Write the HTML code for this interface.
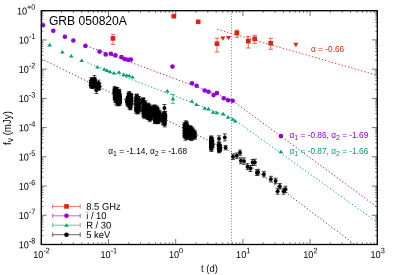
<!DOCTYPE html><html><head><meta charset="utf-8"><style>html,body{margin:0;padding:0;background:#fff;overflow:hidden}body{width:395px;height:275px;position:relative}</style></head><body><svg width="395" height="275" viewBox="0 0 395 275" style="position:absolute;left:0;top:0;will-change:transform;font-family:'Liberation Sans',sans-serif">
<rect width="395" height="275" fill="#fff"/>
<path d="M41.30 244.5v-5.4M41.30 10.7v5.4M61.53 244.5v-2.1M61.53 10.7v2.1M73.36 244.5v-2.1M73.36 10.7v2.1M81.76 244.5v-2.1M81.76 10.7v2.1M88.27 244.5v-2.1M88.27 10.7v2.1M93.59 244.5v-2.1M93.59 10.7v2.1M98.09 244.5v-2.1M98.09 10.7v2.1M101.99 244.5v-2.1M101.99 10.7v2.1M105.43 244.5v-2.1M105.43 10.7v2.1M108.50 244.5v-5.4M108.50 10.7v5.4M128.73 244.5v-2.1M128.73 10.7v2.1M140.56 244.5v-2.1M140.56 10.7v2.1M148.96 244.5v-2.1M148.96 10.7v2.1M155.47 244.5v-2.1M155.47 10.7v2.1M160.79 244.5v-2.1M160.79 10.7v2.1M165.29 244.5v-2.1M165.29 10.7v2.1M169.19 244.5v-2.1M169.19 10.7v2.1M172.63 244.5v-2.1M172.63 10.7v2.1M175.70 244.5v-5.4M175.70 10.7v5.4M195.93 244.5v-2.1M195.93 10.7v2.1M207.76 244.5v-2.1M207.76 10.7v2.1M216.16 244.5v-2.1M216.16 10.7v2.1M222.67 244.5v-2.1M222.67 10.7v2.1M227.99 244.5v-2.1M227.99 10.7v2.1M232.49 244.5v-2.1M232.49 10.7v2.1M236.39 244.5v-2.1M236.39 10.7v2.1M239.83 244.5v-2.1M239.83 10.7v2.1M242.90 244.5v-5.4M242.90 10.7v5.4M263.13 244.5v-2.1M263.13 10.7v2.1M274.96 244.5v-2.1M274.96 10.7v2.1M283.36 244.5v-2.1M283.36 10.7v2.1M289.87 244.5v-2.1M289.87 10.7v2.1M295.19 244.5v-2.1M295.19 10.7v2.1M299.69 244.5v-2.1M299.69 10.7v2.1M303.59 244.5v-2.1M303.59 10.7v2.1M307.03 244.5v-2.1M307.03 10.7v2.1M310.10 244.5v-5.4M310.10 10.7v5.4M330.33 244.5v-2.1M330.33 10.7v2.1M342.16 244.5v-2.1M342.16 10.7v2.1M350.56 244.5v-2.1M350.56 10.7v2.1M357.07 244.5v-2.1M357.07 10.7v2.1M362.39 244.5v-2.1M362.39 10.7v2.1M366.89 244.5v-2.1M366.89 10.7v2.1M370.79 244.5v-2.1M370.79 10.7v2.1M374.23 244.5v-2.1M374.23 10.7v2.1M377.30 244.5v-5.4M377.30 10.7v5.4M41.3 10.70h5.4M377.3 10.70h-5.4M41.3 31.13h2.1M377.3 31.13h-2.1M41.3 25.98h2.1M377.3 25.98h-2.1M41.3 22.33h2.1M377.3 22.33h-2.1M41.3 19.50h2.1M377.3 19.50h-2.1M41.3 17.18h2.1M377.3 17.18h-2.1M41.3 15.23h2.1M377.3 15.23h-2.1M41.3 13.53h2.1M377.3 13.53h-2.1M41.3 12.04h2.1M377.3 12.04h-2.1M41.3 39.92h5.4M377.3 39.92h-5.4M41.3 60.35h2.1M377.3 60.35h-2.1M41.3 55.21h2.1M377.3 55.21h-2.1M41.3 51.55h2.1M377.3 51.55h-2.1M41.3 48.72h2.1M377.3 48.72h-2.1M41.3 46.41h2.1M377.3 46.41h-2.1M41.3 44.45h2.1M377.3 44.45h-2.1M41.3 42.76h2.1M377.3 42.76h-2.1M41.3 41.26h2.1M377.3 41.26h-2.1M41.3 69.15h5.4M377.3 69.15h-5.4M41.3 89.58h2.1M377.3 89.58h-2.1M41.3 84.43h2.1M377.3 84.43h-2.1M41.3 80.78h2.1M377.3 80.78h-2.1M41.3 77.95h2.1M377.3 77.95h-2.1M41.3 75.63h2.1M377.3 75.63h-2.1M41.3 73.68h2.1M377.3 73.68h-2.1M41.3 71.98h2.1M377.3 71.98h-2.1M41.3 70.49h2.1M377.3 70.49h-2.1M41.3 98.38h5.4M377.3 98.38h-5.4M41.3 118.80h2.1M377.3 118.80h-2.1M41.3 113.66h2.1M377.3 113.66h-2.1M41.3 110.00h2.1M377.3 110.00h-2.1M41.3 107.17h2.1M377.3 107.17h-2.1M41.3 104.86h2.1M377.3 104.86h-2.1M41.3 102.90h2.1M377.3 102.90h-2.1M41.3 101.21h2.1M377.3 101.21h-2.1M41.3 99.71h2.1M377.3 99.71h-2.1M41.3 127.60h5.4M377.3 127.60h-5.4M41.3 148.03h2.1M377.3 148.03h-2.1M41.3 142.88h2.1M377.3 142.88h-2.1M41.3 139.23h2.1M377.3 139.23h-2.1M41.3 136.40h2.1M377.3 136.40h-2.1M41.3 134.08h2.1M377.3 134.08h-2.1M41.3 132.13h2.1M377.3 132.13h-2.1M41.3 130.43h2.1M377.3 130.43h-2.1M41.3 128.94h2.1M377.3 128.94h-2.1M41.3 156.82h5.4M377.3 156.82h-5.4M41.3 177.25h2.1M377.3 177.25h-2.1M41.3 172.11h2.1M377.3 172.11h-2.1M41.3 168.45h2.1M377.3 168.45h-2.1M41.3 165.62h2.1M377.3 165.62h-2.1M41.3 163.31h2.1M377.3 163.31h-2.1M41.3 161.35h2.1M377.3 161.35h-2.1M41.3 159.66h2.1M377.3 159.66h-2.1M41.3 158.16h2.1M377.3 158.16h-2.1M41.3 186.05h5.4M377.3 186.05h-5.4M41.3 206.48h2.1M377.3 206.48h-2.1M41.3 201.33h2.1M377.3 201.33h-2.1M41.3 197.68h2.1M377.3 197.68h-2.1M41.3 194.85h2.1M377.3 194.85h-2.1M41.3 192.53h2.1M377.3 192.53h-2.1M41.3 190.58h2.1M377.3 190.58h-2.1M41.3 188.88h2.1M377.3 188.88h-2.1M41.3 187.39h2.1M377.3 187.39h-2.1M41.3 215.28h5.4M377.3 215.28h-5.4M41.3 235.70h2.1M377.3 235.70h-2.1M41.3 230.56h2.1M377.3 230.56h-2.1M41.3 226.90h2.1M377.3 226.90h-2.1M41.3 224.07h2.1M377.3 224.07h-2.1M41.3 221.76h2.1M377.3 221.76h-2.1M41.3 219.80h2.1M377.3 219.80h-2.1M41.3 218.11h2.1M377.3 218.11h-2.1M41.3 216.61h2.1M377.3 216.61h-2.1M41.3 244.50h5.4M377.3 244.50h-5.4" stroke="#000" stroke-width="0.55" fill="none"/>
<path d="M231.50 10.70 L231.50 244.50" stroke="#333" stroke-width="0.7" stroke-dasharray="0.9 1.9" fill="none"/>
<path d="M217.30 29.40 L377.30 75.30" stroke="#e51e10" stroke-width="0.9" stroke-dasharray="1.3 2.1" fill="none"/>
<path d="M86.50 45.80 L231.30 99.80 L377.30 207.20" stroke="#9400d3" stroke-width="0.9" stroke-dasharray="1.3 2.1" fill="none"/>
<path d="M87.50 62.70 L231.30 117.60 L377.30 222.30" stroke="#009e73" stroke-width="0.9" stroke-dasharray="1.3 2.1" fill="none"/>
<path d="M41.30 58.80 L231.30 151.70 L354.90 244.50" stroke="#2a2a2a" stroke-width="0.85" stroke-dasharray="1.3 2.1" fill="none"/>
<path d="M92.22 78.04V83.74M90.22 78.04h4.0M90.22 83.74h4.0" stroke="#000000" stroke-width="0.7" fill="none"/>
<path d="M90.96 80.53V85.66M88.96 80.53h4.0M88.96 85.66h4.0" stroke="#000000" stroke-width="0.7" fill="none"/>
<path d="M90.89 80.62V85.10M88.89 80.62h4.0M88.89 85.10h4.0" stroke="#000000" stroke-width="0.7" fill="none"/>
<path d="M92.77 78.26V82.84M90.77 78.26h4.0M90.77 82.84h4.0" stroke="#000000" stroke-width="0.7" fill="none"/>
<path d="M92.72 83.66V88.31M90.72 83.66h4.0M90.72 88.31h4.0" stroke="#000000" stroke-width="0.7" fill="none"/>
<path d="M91.72 80.95V87.24M89.72 80.95h4.0M89.72 87.24h4.0" stroke="#000000" stroke-width="0.7" fill="none"/>
<path d="M93.49 80.05V86.41M91.49 80.05h4.0M91.49 86.41h4.0" stroke="#000000" stroke-width="0.7" fill="none"/>
<path d="M90.83 82.87V87.85M88.83 82.87h4.0M88.83 87.85h4.0" stroke="#000000" stroke-width="0.7" fill="none"/>
<path d="M91.32 77.74V82.76M89.32 77.74h4.0M89.32 82.76h4.0" stroke="#000000" stroke-width="0.7" fill="none"/>
<path d="M94.68 79.43V84.99M92.68 79.43h4.0M92.68 84.99h4.0" stroke="#000000" stroke-width="0.7" fill="none"/>
<path d="M93.79 80.45V85.94M91.79 80.45h4.0M91.79 85.94h4.0" stroke="#000000" stroke-width="0.7" fill="none"/>
<path d="M91.63 81.81V87.06M89.63 81.81h4.0M89.63 87.06h4.0" stroke="#000000" stroke-width="0.7" fill="none"/>
<path d="M92.17 81.34V86.65M90.17 81.34h4.0M90.17 86.65h4.0" stroke="#000000" stroke-width="0.7" fill="none"/>
<path d="M92.10 82.57V88.37M90.10 82.57h4.0M90.10 88.37h4.0" stroke="#000000" stroke-width="0.7" fill="none"/>
<path d="M91.82 81.03V86.49M89.82 81.03h4.0M89.82 86.49h4.0" stroke="#000000" stroke-width="0.7" fill="none"/>
<path d="M94.98 83.81V88.78M92.98 83.81h4.0M92.98 88.78h4.0" stroke="#000000" stroke-width="0.7" fill="none"/>
<path d="M98.30 85.21V89.91M96.30 85.21h4.0M96.30 89.91h4.0" stroke="#000000" stroke-width="0.7" fill="none"/>
<path d="M98.47 80.17V85.91M96.47 80.17h4.0M96.47 85.91h4.0" stroke="#000000" stroke-width="0.7" fill="none"/>
<path d="M99.13 83.68V89.83M97.13 83.68h4.0M97.13 89.83h4.0" stroke="#000000" stroke-width="0.7" fill="none"/>
<path d="M98.05 84.25V89.84M96.05 84.25h4.0M96.05 89.84h4.0" stroke="#000000" stroke-width="0.7" fill="none"/>
<path d="M98.69 82.77V88.85M96.69 82.77h4.0M96.69 88.85h4.0" stroke="#000000" stroke-width="0.7" fill="none"/>
<path d="M99.57 83.45V89.18M97.57 83.45h4.0M97.57 89.18h4.0" stroke="#000000" stroke-width="0.7" fill="none"/>
<path d="M97.45 83.97V89.66M95.45 83.97h4.0M95.45 89.66h4.0" stroke="#000000" stroke-width="0.7" fill="none"/>
<path d="M97.98 82.17V87.91M95.98 82.17h4.0M95.98 87.91h4.0" stroke="#000000" stroke-width="0.7" fill="none"/>
<path d="M97.35 82.87V87.61M95.35 82.87h4.0M95.35 87.61h4.0" stroke="#000000" stroke-width="0.7" fill="none"/>
<path d="M114.73 86.49V92.43M112.73 86.49h4.0M112.73 92.43h4.0" stroke="#000000" stroke-width="0.7" fill="none"/>
<path d="M114.80 89.54V94.72M112.80 89.54h4.0M112.80 94.72h4.0" stroke="#000000" stroke-width="0.7" fill="none"/>
<path d="M119.40 89.22V94.51M117.40 89.22h4.0M117.40 94.51h4.0" stroke="#000000" stroke-width="0.7" fill="none"/>
<path d="M117.41 99.19V105.22M115.41 99.19h4.0M115.41 105.22h4.0" stroke="#000000" stroke-width="0.7" fill="none"/>
<path d="M119.36 92.00V97.23M117.36 92.00h4.0M117.36 97.23h4.0" stroke="#000000" stroke-width="0.7" fill="none"/>
<path d="M116.22 98.53V104.84M114.22 98.53h4.0M114.22 104.84h4.0" stroke="#000000" stroke-width="0.7" fill="none"/>
<path d="M114.94 88.76V93.63M112.94 88.76h4.0M112.94 93.63h4.0" stroke="#000000" stroke-width="0.7" fill="none"/>
<path d="M115.45 92.96V98.53M113.45 92.96h4.0M113.45 98.53h4.0" stroke="#000000" stroke-width="0.7" fill="none"/>
<path d="M116.60 91.88V97.41M114.60 91.88h4.0M114.60 97.41h4.0" stroke="#000000" stroke-width="0.7" fill="none"/>
<path d="M119.91 97.92V103.35M117.91 97.92h4.0M117.91 103.35h4.0" stroke="#000000" stroke-width="0.7" fill="none"/>
<path d="M117.83 97.24V101.75M115.83 97.24h4.0M115.83 101.75h4.0" stroke="#000000" stroke-width="0.7" fill="none"/>
<path d="M119.58 98.66V104.81M117.58 98.66h4.0M117.58 104.81h4.0" stroke="#000000" stroke-width="0.7" fill="none"/>
<path d="M118.95 93.43V98.62M116.95 93.43h4.0M116.95 98.62h4.0" stroke="#000000" stroke-width="0.7" fill="none"/>
<path d="M114.64 95.21V99.74M112.64 95.21h4.0M112.64 99.74h4.0" stroke="#000000" stroke-width="0.7" fill="none"/>
<path d="M114.42 89.05V93.78M112.42 89.05h4.0M112.42 93.78h4.0" stroke="#000000" stroke-width="0.7" fill="none"/>
<path d="M116.11 87.79V92.19M114.11 87.79h4.0M114.11 92.19h4.0" stroke="#000000" stroke-width="0.7" fill="none"/>
<path d="M114.94 87.58V92.71M112.94 87.58h4.0M112.94 92.71h4.0" stroke="#000000" stroke-width="0.7" fill="none"/>
<path d="M117.81 89.65V94.55M115.81 89.65h4.0M115.81 94.55h4.0" stroke="#000000" stroke-width="0.7" fill="none"/>
<path d="M116.15 92.05V96.70M114.15 92.05h4.0M114.15 96.70h4.0" stroke="#000000" stroke-width="0.7" fill="none"/>
<path d="M116.89 94.09V98.66M114.89 94.09h4.0M114.89 98.66h4.0" stroke="#000000" stroke-width="0.7" fill="none"/>
<path d="M114.63 90.92V95.85M112.63 90.92h4.0M112.63 95.85h4.0" stroke="#000000" stroke-width="0.7" fill="none"/>
<path d="M119.14 90.65V95.10M117.14 90.65h4.0M117.14 95.10h4.0" stroke="#000000" stroke-width="0.7" fill="none"/>
<path d="M119.90 96.01V100.70M117.90 96.01h4.0M117.90 100.70h4.0" stroke="#000000" stroke-width="0.7" fill="none"/>
<path d="M117.37 87.47V92.93M115.37 87.47h4.0M115.37 92.93h4.0" stroke="#000000" stroke-width="0.7" fill="none"/>
<path d="M118.32 91.34V96.47M116.32 91.34h4.0M116.32 96.47h4.0" stroke="#000000" stroke-width="0.7" fill="none"/>
<path d="M115.04 96.85V102.31M113.04 96.85h4.0M113.04 102.31h4.0" stroke="#000000" stroke-width="0.7" fill="none"/>
<path d="M118.83 92.67V97.52M116.83 92.67h4.0M116.83 97.52h4.0" stroke="#000000" stroke-width="0.7" fill="none"/>
<path d="M119.29 98.95V104.99M117.29 98.95h4.0M117.29 104.99h4.0" stroke="#000000" stroke-width="0.7" fill="none"/>
<path d="M118.59 90.83V96.26M116.59 90.83h4.0M116.59 96.26h4.0" stroke="#000000" stroke-width="0.7" fill="none"/>
<path d="M116.20 87.47V91.93M114.20 87.47h4.0M114.20 91.93h4.0" stroke="#000000" stroke-width="0.7" fill="none"/>
<path d="M115.73 89.82V95.61M113.73 89.82h4.0M113.73 95.61h4.0" stroke="#000000" stroke-width="0.7" fill="none"/>
<path d="M119.93 94.10V100.37M117.93 94.10h4.0M117.93 100.37h4.0" stroke="#000000" stroke-width="0.7" fill="none"/>
<path d="M116.26 89.98V94.84M114.26 89.98h4.0M114.26 94.84h4.0" stroke="#000000" stroke-width="0.7" fill="none"/>
<path d="M115.22 88.89V94.54M113.22 88.89h4.0M113.22 94.54h4.0" stroke="#000000" stroke-width="0.7" fill="none"/>
<path d="M119.58 99.90V105.26M117.58 99.90h4.0M117.58 105.26h4.0" stroke="#000000" stroke-width="0.7" fill="none"/>
<path d="M118.05 99.04V103.61M116.05 99.04h4.0M116.05 103.61h4.0" stroke="#000000" stroke-width="0.7" fill="none"/>
<path d="M118.10 99.90V105.87M116.10 99.90h4.0M116.10 105.87h4.0" stroke="#000000" stroke-width="0.7" fill="none"/>
<path d="M118.65 94.71V99.47M116.65 94.71h4.0M116.65 99.47h4.0" stroke="#000000" stroke-width="0.7" fill="none"/>
<path d="M118.89 92.16V98.16M116.89 92.16h4.0M116.89 98.16h4.0" stroke="#000000" stroke-width="0.7" fill="none"/>
<path d="M120.02 93.96V99.16M118.02 93.96h4.0M118.02 99.16h4.0" stroke="#000000" stroke-width="0.7" fill="none"/>
<path d="M119.87 98.72V103.46M117.87 98.72h4.0M117.87 103.46h4.0" stroke="#000000" stroke-width="0.7" fill="none"/>
<path d="M114.79 87.67V93.88M112.79 87.67h4.0M112.79 93.88h4.0" stroke="#000000" stroke-width="0.7" fill="none"/>
<path d="M119.00 89.58V95.63M117.00 89.58h4.0M117.00 95.63h4.0" stroke="#000000" stroke-width="0.7" fill="none"/>
<path d="M120.08 97.69V102.79M118.08 97.69h4.0M118.08 102.79h4.0" stroke="#000000" stroke-width="0.7" fill="none"/>
<path d="M129.40 93.55V97.98M127.40 93.55h4.0M127.40 97.98h4.0" stroke="#000000" stroke-width="0.7" fill="none"/>
<path d="M131.55 100.96V106.41M129.55 100.96h4.0M129.55 106.41h4.0" stroke="#000000" stroke-width="0.7" fill="none"/>
<path d="M131.36 97.64V103.78M129.36 97.64h4.0M129.36 103.78h4.0" stroke="#000000" stroke-width="0.7" fill="none"/>
<path d="M130.81 95.02V99.93M128.81 95.02h4.0M128.81 99.93h4.0" stroke="#000000" stroke-width="0.7" fill="none"/>
<path d="M128.09 93.86V99.43M126.09 93.86h4.0M126.09 99.43h4.0" stroke="#000000" stroke-width="0.7" fill="none"/>
<path d="M127.92 96.63V101.29M125.92 96.63h4.0M125.92 101.29h4.0" stroke="#000000" stroke-width="0.7" fill="none"/>
<path d="M131.24 96.92V102.24M129.24 96.92h4.0M129.24 102.24h4.0" stroke="#000000" stroke-width="0.7" fill="none"/>
<path d="M129.58 103.59V108.83M127.58 103.59h4.0M127.58 108.83h4.0" stroke="#000000" stroke-width="0.7" fill="none"/>
<path d="M131.28 98.85V104.31M129.28 98.85h4.0M129.28 104.31h4.0" stroke="#000000" stroke-width="0.7" fill="none"/>
<path d="M129.27 91.56V96.84M127.27 91.56h4.0M127.27 96.84h4.0" stroke="#000000" stroke-width="0.7" fill="none"/>
<path d="M130.68 94.22V99.57M128.68 94.22h4.0M128.68 99.57h4.0" stroke="#000000" stroke-width="0.7" fill="none"/>
<path d="M130.30 99.35V104.40M128.30 99.35h4.0M128.30 104.40h4.0" stroke="#000000" stroke-width="0.7" fill="none"/>
<path d="M129.24 98.40V104.37M127.24 98.40h4.0M127.24 104.37h4.0" stroke="#000000" stroke-width="0.7" fill="none"/>
<path d="M127.14 98.06V102.95M125.14 98.06h4.0M125.14 102.95h4.0" stroke="#000000" stroke-width="0.7" fill="none"/>
<path d="M128.01 101.03V106.44M126.01 101.03h4.0M126.01 106.44h4.0" stroke="#000000" stroke-width="0.7" fill="none"/>
<path d="M129.46 101.11V107.34M127.46 101.11h4.0M127.46 107.34h4.0" stroke="#000000" stroke-width="0.7" fill="none"/>
<path d="M128.86 99.27V104.68M126.86 99.27h4.0M126.86 104.68h4.0" stroke="#000000" stroke-width="0.7" fill="none"/>
<path d="M129.21 100.56V105.86M127.21 100.56h4.0M127.21 105.86h4.0" stroke="#000000" stroke-width="0.7" fill="none"/>
<path d="M129.32 97.24V103.52M127.32 97.24h4.0M127.32 103.52h4.0" stroke="#000000" stroke-width="0.7" fill="none"/>
<path d="M130.17 102.96V109.24M128.17 102.96h4.0M128.17 109.24h4.0" stroke="#000000" stroke-width="0.7" fill="none"/>
<path d="M127.92 97.70V103.99M125.92 97.70h4.0M125.92 103.99h4.0" stroke="#000000" stroke-width="0.7" fill="none"/>
<path d="M130.88 94.20V98.84M128.88 94.20h4.0M128.88 98.84h4.0" stroke="#000000" stroke-width="0.7" fill="none"/>
<path d="M128.85 92.30V97.18M126.85 92.30h4.0M126.85 97.18h4.0" stroke="#000000" stroke-width="0.7" fill="none"/>
<path d="M126.97 98.91V104.88M124.97 98.91h4.0M124.97 104.88h4.0" stroke="#000000" stroke-width="0.7" fill="none"/>
<path d="M131.17 93.96V99.80M129.17 93.96h4.0M129.17 99.80h4.0" stroke="#000000" stroke-width="0.7" fill="none"/>
<path d="M129.97 93.10V99.27M127.97 93.10h4.0M127.97 99.27h4.0" stroke="#000000" stroke-width="0.7" fill="none"/>
<path d="M131.53 94.76V101.07M129.53 94.76h4.0M129.53 101.07h4.0" stroke="#000000" stroke-width="0.7" fill="none"/>
<path d="M128.63 97.01V103.39M126.63 97.01h4.0M126.63 103.39h4.0" stroke="#000000" stroke-width="0.7" fill="none"/>
<path d="M130.85 94.20V99.46M128.85 94.20h4.0M128.85 99.46h4.0" stroke="#000000" stroke-width="0.7" fill="none"/>
<path d="M129.23 96.08V100.88M127.23 96.08h4.0M127.23 100.88h4.0" stroke="#000000" stroke-width="0.7" fill="none"/>
<path d="M128.22 100.94V105.38M126.22 100.94h4.0M126.22 105.38h4.0" stroke="#000000" stroke-width="0.7" fill="none"/>
<path d="M129.43 97.71V102.14M127.43 97.71h4.0M127.43 102.14h4.0" stroke="#000000" stroke-width="0.7" fill="none"/>
<path d="M128.29 99.16V104.59M126.29 99.16h4.0M126.29 104.59h4.0" stroke="#000000" stroke-width="0.7" fill="none"/>
<path d="M130.62 105.28V109.89M128.62 105.28h4.0M128.62 109.89h4.0" stroke="#000000" stroke-width="0.7" fill="none"/>
<path d="M136.76 94.45V100.41M134.76 94.45h4.0M134.76 100.41h4.0" stroke="#000000" stroke-width="0.7" fill="none"/>
<path d="M136.77 96.20V101.45M134.77 96.20h4.0M134.77 101.45h4.0" stroke="#000000" stroke-width="0.7" fill="none"/>
<path d="M139.08 108.02V112.94M137.08 108.02h4.0M137.08 112.94h4.0" stroke="#000000" stroke-width="0.7" fill="none"/>
<path d="M136.34 108.02V113.56M134.34 108.02h4.0M134.34 113.56h4.0" stroke="#000000" stroke-width="0.7" fill="none"/>
<path d="M138.32 96.64V101.16M136.32 96.64h4.0M136.32 101.16h4.0" stroke="#000000" stroke-width="0.7" fill="none"/>
<path d="M138.28 101.78V106.33M136.28 101.78h4.0M136.28 106.33h4.0" stroke="#000000" stroke-width="0.7" fill="none"/>
<path d="M139.18 104.68V110.68M137.18 104.68h4.0M137.18 110.68h4.0" stroke="#000000" stroke-width="0.7" fill="none"/>
<path d="M136.10 107.44V111.98M134.10 107.44h4.0M134.10 111.98h4.0" stroke="#000000" stroke-width="0.7" fill="none"/>
<path d="M138.91 102.24V107.31M136.91 102.24h4.0M136.91 107.31h4.0" stroke="#000000" stroke-width="0.7" fill="none"/>
<path d="M137.79 109.09V114.02M135.79 109.09h4.0M135.79 114.02h4.0" stroke="#000000" stroke-width="0.7" fill="none"/>
<path d="M136.27 102.28V107.15M134.27 102.28h4.0M134.27 107.15h4.0" stroke="#000000" stroke-width="0.7" fill="none"/>
<path d="M136.19 96.80V101.30M134.19 96.80h4.0M134.19 101.30h4.0" stroke="#000000" stroke-width="0.7" fill="none"/>
<path d="M136.53 99.02V104.03M134.53 99.02h4.0M134.53 104.03h4.0" stroke="#000000" stroke-width="0.7" fill="none"/>
<path d="M138.53 99.39V104.79M136.53 99.39h4.0M136.53 104.79h4.0" stroke="#000000" stroke-width="0.7" fill="none"/>
<path d="M136.44 99.80V104.24M134.44 99.80h4.0M134.44 104.24h4.0" stroke="#000000" stroke-width="0.7" fill="none"/>
<path d="M136.70 94.10V99.97M134.70 94.10h4.0M134.70 99.97h4.0" stroke="#000000" stroke-width="0.7" fill="none"/>
<path d="M137.78 97.53V102.88M135.78 97.53h4.0M135.78 102.88h4.0" stroke="#000000" stroke-width="0.7" fill="none"/>
<path d="M139.16 96.52V102.56M137.16 96.52h4.0M137.16 102.56h4.0" stroke="#000000" stroke-width="0.7" fill="none"/>
<path d="M137.36 101.68V107.75M135.36 101.68h4.0M135.36 107.75h4.0" stroke="#000000" stroke-width="0.7" fill="none"/>
<path d="M137.22 101.94V107.72M135.22 101.94h4.0M135.22 107.72h4.0" stroke="#000000" stroke-width="0.7" fill="none"/>
<path d="M139.34 100.23V106.29M137.34 100.23h4.0M137.34 106.29h4.0" stroke="#000000" stroke-width="0.7" fill="none"/>
<path d="M138.34 104.72V109.93M136.34 104.72h4.0M136.34 109.93h4.0" stroke="#000000" stroke-width="0.7" fill="none"/>
<path d="M137.05 95.46V100.12M135.05 95.46h4.0M135.05 100.12h4.0" stroke="#000000" stroke-width="0.7" fill="none"/>
<path d="M136.05 105.46V110.37M134.05 105.46h4.0M134.05 110.37h4.0" stroke="#000000" stroke-width="0.7" fill="none"/>
<path d="M136.39 94.91V101.00M134.39 94.91h4.0M134.39 101.00h4.0" stroke="#000000" stroke-width="0.7" fill="none"/>
<path d="M138.93 105.64V110.61M136.93 105.64h4.0M136.93 110.61h4.0" stroke="#000000" stroke-width="0.7" fill="none"/>
<path d="M136.67 98.64V103.95M134.67 98.64h4.0M134.67 103.95h4.0" stroke="#000000" stroke-width="0.7" fill="none"/>
<path d="M136.37 101.05V105.97M134.37 101.05h4.0M134.37 105.97h4.0" stroke="#000000" stroke-width="0.7" fill="none"/>
<path d="M137.77 97.88V104.21M135.77 97.88h4.0M135.77 104.21h4.0" stroke="#000000" stroke-width="0.7" fill="none"/>
<path d="M136.91 100.18V104.58M134.91 100.18h4.0M134.91 104.58h4.0" stroke="#000000" stroke-width="0.7" fill="none"/>
<path d="M143.67 104.70V110.11M141.67 104.70h4.0M141.67 110.11h4.0" stroke="#000000" stroke-width="0.7" fill="none"/>
<path d="M143.02 105.39V109.80M141.02 105.39h4.0M141.02 109.80h4.0" stroke="#000000" stroke-width="0.7" fill="none"/>
<path d="M143.25 98.45V103.65M141.25 98.45h4.0M141.25 103.65h4.0" stroke="#000000" stroke-width="0.7" fill="none"/>
<path d="M143.40 100.62V106.19M141.40 100.62h4.0M141.40 106.19h4.0" stroke="#000000" stroke-width="0.7" fill="none"/>
<path d="M144.21 109.20V114.91M142.21 109.20h4.0M142.21 114.91h4.0" stroke="#000000" stroke-width="0.7" fill="none"/>
<path d="M144.88 111.83V117.00M142.88 111.83h4.0M142.88 117.00h4.0" stroke="#000000" stroke-width="0.7" fill="none"/>
<path d="M143.47 113.12V117.82M141.47 113.12h4.0M141.47 117.82h4.0" stroke="#000000" stroke-width="0.7" fill="none"/>
<path d="M144.91 108.41V112.90M142.91 108.41h4.0M142.91 112.90h4.0" stroke="#000000" stroke-width="0.7" fill="none"/>
<path d="M145.31 111.99V117.64M143.31 111.99h4.0M143.31 117.64h4.0" stroke="#000000" stroke-width="0.7" fill="none"/>
<path d="M144.94 111.04V115.71M142.94 111.04h4.0M142.94 115.71h4.0" stroke="#000000" stroke-width="0.7" fill="none"/>
<path d="M144.19 105.07V111.14M142.19 105.07h4.0M142.19 111.14h4.0" stroke="#000000" stroke-width="0.7" fill="none"/>
<path d="M145.20 110.93V116.50M143.20 110.93h4.0M143.20 116.50h4.0" stroke="#000000" stroke-width="0.7" fill="none"/>
<path d="M145.51 108.67V114.46M143.51 108.67h4.0M143.51 114.46h4.0" stroke="#000000" stroke-width="0.7" fill="none"/>
<path d="M143.13 97.73V102.39M141.13 97.73h4.0M141.13 102.39h4.0" stroke="#000000" stroke-width="0.7" fill="none"/>
<path d="M143.60 98.42V104.49M141.60 98.42h4.0M141.60 104.49h4.0" stroke="#000000" stroke-width="0.7" fill="none"/>
<path d="M144.31 107.31V112.97M142.31 107.31h4.0M142.31 112.97h4.0" stroke="#000000" stroke-width="0.7" fill="none"/>
<path d="M144.75 105.92V110.32M142.75 105.92h4.0M142.75 110.32h4.0" stroke="#000000" stroke-width="0.7" fill="none"/>
<path d="M145.17 109.75V115.16M143.17 109.75h4.0M143.17 115.16h4.0" stroke="#000000" stroke-width="0.7" fill="none"/>
<path d="M144.23 108.34V112.87M142.23 108.34h4.0M142.23 112.87h4.0" stroke="#000000" stroke-width="0.7" fill="none"/>
<path d="M144.95 102.14V106.69M142.95 102.14h4.0M142.95 106.69h4.0" stroke="#000000" stroke-width="0.7" fill="none"/>
<path d="M143.26 108.88V113.69M141.26 108.88h4.0M141.26 113.69h4.0" stroke="#000000" stroke-width="0.7" fill="none"/>
<path d="M144.96 113.31V118.69M142.96 113.31h4.0M142.96 118.69h4.0" stroke="#000000" stroke-width="0.7" fill="none"/>
<path d="M143.68 104.59V110.36M141.68 104.59h4.0M141.68 110.36h4.0" stroke="#000000" stroke-width="0.7" fill="none"/>
<path d="M145.06 107.46V113.15M143.06 107.46h4.0M143.06 113.15h4.0" stroke="#000000" stroke-width="0.7" fill="none"/>
<path d="M142.58 99.22V104.13M140.58 99.22h4.0M140.58 104.13h4.0" stroke="#000000" stroke-width="0.7" fill="none"/>
<path d="M144.98 102.50V108.03M142.98 102.50h4.0M142.98 108.03h4.0" stroke="#000000" stroke-width="0.7" fill="none"/>
<path d="M143.27 107.49V113.27M141.27 107.49h4.0M141.27 113.27h4.0" stroke="#000000" stroke-width="0.7" fill="none"/>
<path d="M144.73 102.22V107.65M142.73 102.22h4.0M142.73 107.65h4.0" stroke="#000000" stroke-width="0.7" fill="none"/>
<path d="M143.97 105.09V109.72M141.97 105.09h4.0M141.97 109.72h4.0" stroke="#000000" stroke-width="0.7" fill="none"/>
<path d="M145.52 100.65V107.00M143.52 100.65h4.0M143.52 107.00h4.0" stroke="#000000" stroke-width="0.7" fill="none"/>
<path d="M143.95 109.88V116.22M141.95 109.88h4.0M141.95 116.22h4.0" stroke="#000000" stroke-width="0.7" fill="none"/>
<path d="M143.92 101.81V106.63M141.92 101.81h4.0M141.92 106.63h4.0" stroke="#000000" stroke-width="0.7" fill="none"/>
<path d="M151.10 105.95V111.51M149.10 105.95h4.0M149.10 111.51h4.0" stroke="#000000" stroke-width="0.7" fill="none"/>
<path d="M148.12 109.13V115.43M146.12 109.13h4.0M146.12 115.43h4.0" stroke="#000000" stroke-width="0.7" fill="none"/>
<path d="M148.09 114.17V119.59M146.09 114.17h4.0M146.09 119.59h4.0" stroke="#000000" stroke-width="0.7" fill="none"/>
<path d="M150.88 113.88V118.75M148.88 113.88h4.0M148.88 118.75h4.0" stroke="#000000" stroke-width="0.7" fill="none"/>
<path d="M150.92 110.72V115.17M148.92 110.72h4.0M148.92 115.17h4.0" stroke="#000000" stroke-width="0.7" fill="none"/>
<path d="M147.61 108.89V114.19M145.61 108.89h4.0M145.61 114.19h4.0" stroke="#000000" stroke-width="0.7" fill="none"/>
<path d="M148.72 104.02V109.11M146.72 104.02h4.0M146.72 109.11h4.0" stroke="#000000" stroke-width="0.7" fill="none"/>
<path d="M148.77 115.30V119.70M146.77 115.30h4.0M146.77 119.70h4.0" stroke="#000000" stroke-width="0.7" fill="none"/>
<path d="M150.38 115.89V120.53M148.38 115.89h4.0M148.38 120.53h4.0" stroke="#000000" stroke-width="0.7" fill="none"/>
<path d="M151.03 113.43V119.63M149.03 113.43h4.0M149.03 119.63h4.0" stroke="#000000" stroke-width="0.7" fill="none"/>
<path d="M148.67 107.56V112.75M146.67 107.56h4.0M146.67 112.75h4.0" stroke="#000000" stroke-width="0.7" fill="none"/>
<path d="M151.30 112.16V117.28M149.30 112.16h4.0M149.30 117.28h4.0" stroke="#000000" stroke-width="0.7" fill="none"/>
<path d="M149.18 106.62V111.12M147.18 106.62h4.0M147.18 111.12h4.0" stroke="#000000" stroke-width="0.7" fill="none"/>
<path d="M147.98 114.57V119.54M145.98 114.57h4.0M145.98 119.54h4.0" stroke="#000000" stroke-width="0.7" fill="none"/>
<path d="M151.06 106.85V111.78M149.06 106.85h4.0M149.06 111.78h4.0" stroke="#000000" stroke-width="0.7" fill="none"/>
<path d="M149.49 105.11V110.25M147.49 105.11h4.0M147.49 110.25h4.0" stroke="#000000" stroke-width="0.7" fill="none"/>
<path d="M150.60 111.95V118.17M148.60 111.95h4.0M148.60 118.17h4.0" stroke="#000000" stroke-width="0.7" fill="none"/>
<path d="M151.08 111.08V116.92M149.08 111.08h4.0M149.08 116.92h4.0" stroke="#000000" stroke-width="0.7" fill="none"/>
<path d="M147.78 112.72V118.03M145.78 112.72h4.0M145.78 118.03h4.0" stroke="#000000" stroke-width="0.7" fill="none"/>
<path d="M150.38 112.69V117.66M148.38 112.69h4.0M148.38 117.66h4.0" stroke="#000000" stroke-width="0.7" fill="none"/>
<path d="M148.07 108.90V113.99M146.07 108.90h4.0M146.07 113.99h4.0" stroke="#000000" stroke-width="0.7" fill="none"/>
<path d="M148.70 112.72V119.07M146.70 112.72h4.0M146.70 119.07h4.0" stroke="#000000" stroke-width="0.7" fill="none"/>
<path d="M148.56 112.03V117.04M146.56 112.03h4.0M146.56 117.04h4.0" stroke="#000000" stroke-width="0.7" fill="none"/>
<path d="M149.66 108.58V113.31M147.66 108.58h4.0M147.66 113.31h4.0" stroke="#000000" stroke-width="0.7" fill="none"/>
<path d="M148.20 104.27V110.49M146.20 104.27h4.0M146.20 110.49h4.0" stroke="#000000" stroke-width="0.7" fill="none"/>
<path d="M149.44 105.02V111.23M147.44 105.02h4.0M147.44 111.23h4.0" stroke="#000000" stroke-width="0.7" fill="none"/>
<path d="M151.29 110.21V114.89M149.29 110.21h4.0M149.29 114.89h4.0" stroke="#000000" stroke-width="0.7" fill="none"/>
<path d="M148.31 103.06V108.14M146.31 103.06h4.0M146.31 108.14h4.0" stroke="#000000" stroke-width="0.7" fill="none"/>
<path d="M147.94 105.29V110.21M145.94 105.29h4.0M145.94 110.21h4.0" stroke="#000000" stroke-width="0.7" fill="none"/>
<path d="M149.71 115.71V121.61M147.71 115.71h4.0M147.71 121.61h4.0" stroke="#000000" stroke-width="0.7" fill="none"/>
<path d="M149.13 108.29V113.74M147.13 108.29h4.0M147.13 113.74h4.0" stroke="#000000" stroke-width="0.7" fill="none"/>
<path d="M148.99 107.51V112.03M146.99 107.51h4.0M146.99 112.03h4.0" stroke="#000000" stroke-width="0.7" fill="none"/>
<path d="M155.09 118.06V122.71M153.09 118.06h4.0M153.09 122.71h4.0" stroke="#000000" stroke-width="0.7" fill="none"/>
<path d="M156.62 113.48V119.61M154.62 113.48h4.0M154.62 119.61h4.0" stroke="#000000" stroke-width="0.7" fill="none"/>
<path d="M154.67 108.41V113.31M152.67 108.41h4.0M152.67 113.31h4.0" stroke="#000000" stroke-width="0.7" fill="none"/>
<path d="M155.92 110.61V116.92M153.92 110.61h4.0M153.92 116.92h4.0" stroke="#000000" stroke-width="0.7" fill="none"/>
<path d="M158.97 118.64V123.09M156.97 118.64h4.0M156.97 123.09h4.0" stroke="#000000" stroke-width="0.7" fill="none"/>
<path d="M153.42 113.08V119.27M151.42 113.08h4.0M151.42 119.27h4.0" stroke="#000000" stroke-width="0.7" fill="none"/>
<path d="M156.42 113.69V118.09M154.42 113.69h4.0M154.42 118.09h4.0" stroke="#000000" stroke-width="0.7" fill="none"/>
<path d="M155.86 117.16V123.21M153.86 117.16h4.0M153.86 123.21h4.0" stroke="#000000" stroke-width="0.7" fill="none"/>
<path d="M154.89 106.44V111.15M152.89 106.44h4.0M152.89 111.15h4.0" stroke="#000000" stroke-width="0.7" fill="none"/>
<path d="M156.75 114.17V120.45M154.75 114.17h4.0M154.75 120.45h4.0" stroke="#000000" stroke-width="0.7" fill="none"/>
<path d="M158.11 114.49V120.42M156.11 114.49h4.0M156.11 120.42h4.0" stroke="#000000" stroke-width="0.7" fill="none"/>
<path d="M156.31 113.12V117.60M154.31 113.12h4.0M154.31 117.60h4.0" stroke="#000000" stroke-width="0.7" fill="none"/>
<path d="M158.52 108.96V115.20M156.52 108.96h4.0M156.52 115.20h4.0" stroke="#000000" stroke-width="0.7" fill="none"/>
<path d="M157.59 110.29V114.94M155.59 110.29h4.0M155.59 114.94h4.0" stroke="#000000" stroke-width="0.7" fill="none"/>
<path d="M154.91 112.97V118.77M152.91 112.97h4.0M152.91 118.77h4.0" stroke="#000000" stroke-width="0.7" fill="none"/>
<path d="M153.96 105.13V110.58M151.96 105.13h4.0M151.96 110.58h4.0" stroke="#000000" stroke-width="0.7" fill="none"/>
<path d="M157.16 111.13V115.98M155.16 111.13h4.0M155.16 115.98h4.0" stroke="#000000" stroke-width="0.7" fill="none"/>
<path d="M157.29 106.05V111.05M155.29 106.05h4.0M155.29 111.05h4.0" stroke="#000000" stroke-width="0.7" fill="none"/>
<path d="M156.33 117.98V123.67M154.33 117.98h4.0M154.33 123.67h4.0" stroke="#000000" stroke-width="0.7" fill="none"/>
<path d="M159.21 113.21V118.08M157.21 113.21h4.0M157.21 118.08h4.0" stroke="#000000" stroke-width="0.7" fill="none"/>
<path d="M154.88 117.29V123.10M152.88 117.29h4.0M152.88 123.10h4.0" stroke="#000000" stroke-width="0.7" fill="none"/>
<path d="M155.29 105.10V110.50M153.29 105.10h4.0M153.29 110.50h4.0" stroke="#000000" stroke-width="0.7" fill="none"/>
<path d="M157.79 111.80V116.72M155.79 111.80h4.0M155.79 116.72h4.0" stroke="#000000" stroke-width="0.7" fill="none"/>
<path d="M157.74 118.58V123.44M155.74 118.58h4.0M155.74 123.44h4.0" stroke="#000000" stroke-width="0.7" fill="none"/>
<path d="M153.43 108.58V113.82M151.43 108.58h4.0M151.43 113.82h4.0" stroke="#000000" stroke-width="0.7" fill="none"/>
<path d="M157.84 108.32V114.31M155.84 108.32h4.0M155.84 114.31h4.0" stroke="#000000" stroke-width="0.7" fill="none"/>
<path d="M158.23 113.19V118.00M156.23 113.19h4.0M156.23 118.00h4.0" stroke="#000000" stroke-width="0.7" fill="none"/>
<path d="M159.80 110.69V116.73M157.80 110.69h4.0M157.80 116.73h4.0" stroke="#000000" stroke-width="0.7" fill="none"/>
<path d="M154.77 107.28V113.20M152.77 107.28h4.0M152.77 113.20h4.0" stroke="#000000" stroke-width="0.7" fill="none"/>
<path d="M155.21 117.53V122.92M153.21 117.53h4.0M153.21 122.92h4.0" stroke="#000000" stroke-width="0.7" fill="none"/>
<path d="M154.47 107.52V112.75M152.47 107.52h4.0M152.47 112.75h4.0" stroke="#000000" stroke-width="0.7" fill="none"/>
<path d="M157.72 118.97V123.67M155.72 118.97h4.0M155.72 123.67h4.0" stroke="#000000" stroke-width="0.7" fill="none"/>
<path d="M155.88 107.45V113.80M153.88 107.45h4.0M153.88 113.80h4.0" stroke="#000000" stroke-width="0.7" fill="none"/>
<path d="M154.16 105.44V109.96M152.16 105.44h4.0M152.16 109.96h4.0" stroke="#000000" stroke-width="0.7" fill="none"/>
<path d="M155.87 116.73V122.89M153.87 116.73h4.0M153.87 122.89h4.0" stroke="#000000" stroke-width="0.7" fill="none"/>
<path d="M159.53 111.45V116.22M157.53 111.45h4.0M157.53 116.22h4.0" stroke="#000000" stroke-width="0.7" fill="none"/>
<path d="M159.56 117.20V121.67M157.56 117.20h4.0M157.56 121.67h4.0" stroke="#000000" stroke-width="0.7" fill="none"/>
<path d="M157.72 111.10V116.25M155.72 111.10h4.0M155.72 116.25h4.0" stroke="#000000" stroke-width="0.7" fill="none"/>
<path d="M155.46 107.65V112.06M153.46 107.65h4.0M153.46 112.06h4.0" stroke="#000000" stroke-width="0.7" fill="none"/>
<path d="M155.10 108.98V115.29M153.10 108.98h4.0M153.10 115.29h4.0" stroke="#000000" stroke-width="0.7" fill="none"/>
<path d="M154.61 108.96V115.01M152.61 108.96h4.0M152.61 115.01h4.0" stroke="#000000" stroke-width="0.7" fill="none"/>
<path d="M158.79 112.63V117.13M156.79 112.63h4.0M156.79 117.13h4.0" stroke="#000000" stroke-width="0.7" fill="none"/>
<path d="M156.42 109.89V116.13M154.42 109.89h4.0M154.42 116.13h4.0" stroke="#000000" stroke-width="0.7" fill="none"/>
<path d="M154.51 108.94V115.14M152.51 108.94h4.0M152.51 115.14h4.0" stroke="#000000" stroke-width="0.7" fill="none"/>
<path d="M162.68 114.13V120.15M160.68 114.13h4.0M160.68 120.15h4.0" stroke="#000000" stroke-width="0.7" fill="none"/>
<path d="M164.75 111.39V115.86M162.75 111.39h4.0M162.75 115.86h4.0" stroke="#000000" stroke-width="0.7" fill="none"/>
<path d="M163.32 118.36V124.56M161.32 118.36h4.0M161.32 124.56h4.0" stroke="#000000" stroke-width="0.7" fill="none"/>
<path d="M163.55 112.71V119.02M161.55 112.71h4.0M161.55 119.02h4.0" stroke="#000000" stroke-width="0.7" fill="none"/>
<path d="M164.33 113.18V119.01M162.33 113.18h4.0M162.33 119.01h4.0" stroke="#000000" stroke-width="0.7" fill="none"/>
<path d="M163.49 113.67V118.08M161.49 113.67h4.0M161.49 118.08h4.0" stroke="#000000" stroke-width="0.7" fill="none"/>
<path d="M164.72 121.29V126.95M162.72 121.29h4.0M162.72 126.95h4.0" stroke="#000000" stroke-width="0.7" fill="none"/>
<path d="M163.25 115.01V121.32M161.25 115.01h4.0M161.25 121.32h4.0" stroke="#000000" stroke-width="0.7" fill="none"/>
<path d="M165.27 115.56V120.46M163.27 115.56h4.0M163.27 120.46h4.0" stroke="#000000" stroke-width="0.7" fill="none"/>
<path d="M163.80 115.51V121.76M161.80 115.51h4.0M161.80 121.76h4.0" stroke="#000000" stroke-width="0.7" fill="none"/>
<path d="M163.11 119.09V124.97M161.11 119.09h4.0M161.11 124.97h4.0" stroke="#000000" stroke-width="0.7" fill="none"/>
<path d="M164.90 119.67V125.29M162.90 119.67h4.0M162.90 125.29h4.0" stroke="#000000" stroke-width="0.7" fill="none"/>
<path d="M163.52 113.86V118.98M161.52 113.86h4.0M161.52 118.98h4.0" stroke="#000000" stroke-width="0.7" fill="none"/>
<path d="M164.79 111.71V116.50M162.79 111.71h4.0M162.79 116.50h4.0" stroke="#000000" stroke-width="0.7" fill="none"/>
<path d="M164.71 113.82V118.35M162.71 113.82h4.0M162.71 118.35h4.0" stroke="#000000" stroke-width="0.7" fill="none"/>
<path d="M162.69 116.32V121.37M160.69 116.32h4.0M160.69 121.37h4.0" stroke="#000000" stroke-width="0.7" fill="none"/>
<path d="M165.37 114.31V118.88M163.37 114.31h4.0M163.37 118.88h4.0" stroke="#000000" stroke-width="0.7" fill="none"/>
<path d="M162.87 115.36V121.18M160.87 115.36h4.0M160.87 121.18h4.0" stroke="#000000" stroke-width="0.7" fill="none"/>
<path d="M163.85 112.93V118.16M161.85 112.93h4.0M161.85 118.16h4.0" stroke="#000000" stroke-width="0.7" fill="none"/>
<path d="M164.34 118.09V123.99M162.34 118.09h4.0M162.34 123.99h4.0" stroke="#000000" stroke-width="0.7" fill="none"/>
<path d="M212.29 142.96V147.61M210.29 142.96h4.0M210.29 147.61h4.0" stroke="#000000" stroke-width="0.7" fill="none"/>
<path d="M212.28 138.07V143.60M210.28 138.07h4.0M210.28 143.60h4.0" stroke="#000000" stroke-width="0.7" fill="none"/>
<path d="M211.35 143.34V148.14M209.35 143.34h4.0M209.35 148.14h4.0" stroke="#000000" stroke-width="0.7" fill="none"/>
<path d="M211.09 137.36V142.07M209.09 137.36h4.0M209.09 142.07h4.0" stroke="#000000" stroke-width="0.7" fill="none"/>
<path d="M212.37 141.76V146.81M210.37 141.76h4.0M210.37 146.81h4.0" stroke="#000000" stroke-width="0.7" fill="none"/>
<path d="M211.39 146.11V151.52M209.39 146.11h4.0M209.39 151.52h4.0" stroke="#000000" stroke-width="0.7" fill="none"/>
<path d="M211.06 143.61V149.31M209.06 143.61h4.0M209.06 149.31h4.0" stroke="#000000" stroke-width="0.7" fill="none"/>
<path d="M211.55 143.77V149.85M209.55 143.77h4.0M209.55 149.85h4.0" stroke="#000000" stroke-width="0.7" fill="none"/>
<path d="M211.19 135.86V140.63M209.19 135.86h4.0M209.19 140.63h4.0" stroke="#000000" stroke-width="0.7" fill="none"/>
<path d="M212.55 141.29V147.55M210.55 141.29h4.0M210.55 147.55h4.0" stroke="#000000" stroke-width="0.7" fill="none"/>
<path d="M211.34 144.63V149.93M209.34 144.63h4.0M209.34 149.93h4.0" stroke="#000000" stroke-width="0.7" fill="none"/>
<path d="M211.12 142.97V149.26M209.12 142.97h4.0M209.12 149.26h4.0" stroke="#000000" stroke-width="0.7" fill="none"/>
<path d="M210.81 140.98V146.62M208.81 140.98h4.0M208.81 146.62h4.0" stroke="#000000" stroke-width="0.7" fill="none"/>
<path d="M211.04 138.83V143.51M209.04 138.83h4.0M209.04 143.51h4.0" stroke="#000000" stroke-width="0.7" fill="none"/>
<path d="M211.01 136.99V142.59M209.01 136.99h4.0M209.01 142.59h4.0" stroke="#000000" stroke-width="0.7" fill="none"/>
<path d="M211.90 137.37V141.79M209.90 137.37h4.0M209.90 141.79h4.0" stroke="#000000" stroke-width="0.7" fill="none"/>
<path d="M218.99 148.08V152.85M216.99 148.08h4.0M216.99 152.85h4.0" stroke="#000000" stroke-width="0.7" fill="none"/>
<path d="M218.96 143.18V149.17M216.96 143.18h4.0M216.96 149.17h4.0" stroke="#000000" stroke-width="0.7" fill="none"/>
<path d="M219.39 142.81V147.41M217.39 142.81h4.0M217.39 147.41h4.0" stroke="#000000" stroke-width="0.7" fill="none"/>
<path d="M219.11 146.53V152.21M217.11 146.53h4.0M217.11 152.21h4.0" stroke="#000000" stroke-width="0.7" fill="none"/>
<path d="M218.56 142.75V148.54M216.56 142.75h4.0M216.56 148.54h4.0" stroke="#000000" stroke-width="0.7" fill="none"/>
<path d="M219.14 144.47V149.48M217.14 144.47h4.0M217.14 149.48h4.0" stroke="#000000" stroke-width="0.7" fill="none"/>
<path d="M220.12 144.91V150.44M218.12 144.91h4.0M218.12 150.44h4.0" stroke="#000000" stroke-width="0.7" fill="none"/>
<path d="M219.04 145.07V151.20M217.04 145.07h4.0M217.04 151.20h4.0" stroke="#000000" stroke-width="0.7" fill="none"/>
<path d="M220.19 145.78V150.57M218.19 145.78h4.0M218.19 150.57h4.0" stroke="#000000" stroke-width="0.7" fill="none"/>
<path d="M219.71 144.31V148.72M217.71 144.31h4.0M217.71 148.72h4.0" stroke="#000000" stroke-width="0.7" fill="none"/>
<path d="M220.02 145.62V151.66M218.02 145.62h4.0M218.02 151.66h4.0" stroke="#000000" stroke-width="0.7" fill="none"/>
<path d="M188.67 133.73V138.87M186.67 133.73h4.0M186.67 138.87h4.0" stroke="#000000" stroke-width="0.7" fill="none"/>
<path d="M190.34 129.45V135.31M188.34 129.45h4.0M188.34 135.31h4.0" stroke="#000000" stroke-width="0.7" fill="none"/>
<path d="M185.02 129.58V134.58M183.02 129.58h4.0M183.02 134.58h4.0" stroke="#000000" stroke-width="0.7" fill="none"/>
<path d="M187.26 127.50V133.38M185.26 127.50h4.0M185.26 133.38h4.0" stroke="#000000" stroke-width="0.7" fill="none"/>
<path d="M185.25 127.10V132.79M183.25 127.10h4.0M183.25 132.79h4.0" stroke="#000000" stroke-width="0.7" fill="none"/>
<path d="M185.46 134.30V140.26M183.46 134.30h4.0M183.46 140.26h4.0" stroke="#000000" stroke-width="0.7" fill="none"/>
<path d="M188.65 132.85V138.57M186.65 132.85h4.0M186.65 138.57h4.0" stroke="#000000" stroke-width="0.7" fill="none"/>
<path d="M186.10 123.01V128.05M184.10 123.01h4.0M184.10 128.05h4.0" stroke="#000000" stroke-width="0.7" fill="none"/>
<path d="M189.96 125.92V130.51M187.96 125.92h4.0M187.96 130.51h4.0" stroke="#000000" stroke-width="0.7" fill="none"/>
<path d="M186.84 130.83V136.66M184.84 130.83h4.0M184.84 136.66h4.0" stroke="#000000" stroke-width="0.7" fill="none"/>
<path d="M184.47 128.30V133.92M182.47 128.30h4.0M182.47 133.92h4.0" stroke="#000000" stroke-width="0.7" fill="none"/>
<path d="M184.44 133.28V137.87M182.44 133.28h4.0M182.44 137.87h4.0" stroke="#000000" stroke-width="0.7" fill="none"/>
<path d="M190.89 128.21V133.61M188.89 128.21h4.0M188.89 133.61h4.0" stroke="#000000" stroke-width="0.7" fill="none"/>
<path d="M187.52 126.14V131.47M185.52 126.14h4.0M185.52 131.47h4.0" stroke="#000000" stroke-width="0.7" fill="none"/>
<path d="M188.90 130.12V135.23M186.90 130.12h4.0M186.90 135.23h4.0" stroke="#000000" stroke-width="0.7" fill="none"/>
<path d="M191.12 127.54V132.32M189.12 127.54h4.0M189.12 132.32h4.0" stroke="#000000" stroke-width="0.7" fill="none"/>
<path d="M192.78 132.07V137.20M190.78 132.07h4.0M190.78 137.20h4.0" stroke="#000000" stroke-width="0.7" fill="none"/>
<path d="M186.07 127.38V131.95M184.07 127.38h4.0M184.07 131.95h4.0" stroke="#000000" stroke-width="0.7" fill="none"/>
<path d="M185.48 126.70V131.25M183.48 126.70h4.0M183.48 131.25h4.0" stroke="#000000" stroke-width="0.7" fill="none"/>
<path d="M189.08 128.03V132.50M187.08 128.03h4.0M187.08 132.50h4.0" stroke="#000000" stroke-width="0.7" fill="none"/>
<path d="M192.44 131.99V137.21M190.44 131.99h4.0M190.44 137.21h4.0" stroke="#000000" stroke-width="0.7" fill="none"/>
<path d="M184.62 127.66V132.67M182.62 127.66h4.0M182.62 132.67h4.0" stroke="#000000" stroke-width="0.7" fill="none"/>
<path d="M192.42 132.85V137.56M190.42 132.85h4.0M190.42 137.56h4.0" stroke="#000000" stroke-width="0.7" fill="none"/>
<path d="M195.00 134.51V139.17M193.00 134.51h4.0M193.00 139.17h4.0" stroke="#000000" stroke-width="0.7" fill="none"/>
<path d="M193.07 134.82V139.33M191.07 134.82h4.0M191.07 139.33h4.0" stroke="#000000" stroke-width="0.7" fill="none"/>
<path d="M188.04 131.92V136.58M186.04 131.92h4.0M186.04 136.58h4.0" stroke="#000000" stroke-width="0.7" fill="none"/>
<path d="M189.78 134.54V139.27M187.78 134.54h4.0M187.78 139.27h4.0" stroke="#000000" stroke-width="0.7" fill="none"/>
<path d="M187.02 127.74V132.65M185.02 127.74h4.0M185.02 132.65h4.0" stroke="#000000" stroke-width="0.7" fill="none"/>
<path d="M184.42 122.62V127.28M182.42 122.62h4.0M182.42 127.28h4.0" stroke="#000000" stroke-width="0.7" fill="none"/>
<path d="M194.77 130.09V135.93M192.77 130.09h4.0M192.77 135.93h4.0" stroke="#000000" stroke-width="0.7" fill="none"/>
<path d="M185.94 132.42V137.01M183.94 132.42h4.0M183.94 137.01h4.0" stroke="#000000" stroke-width="0.7" fill="none"/>
<path d="M190.10 129.82V134.80M188.10 129.82h4.0M188.10 134.80h4.0" stroke="#000000" stroke-width="0.7" fill="none"/>
<path d="M190.67 134.01V138.58M188.67 134.01h4.0M188.67 138.58h4.0" stroke="#000000" stroke-width="0.7" fill="none"/>
<path d="M188.53 132.51V137.33M186.53 132.51h4.0M186.53 137.33h4.0" stroke="#000000" stroke-width="0.7" fill="none"/>
<path d="M188.14 131.83V136.94M186.14 131.83h4.0M186.14 136.94h4.0" stroke="#000000" stroke-width="0.7" fill="none"/>
<path d="M186.03 131.81V136.28M184.03 131.81h4.0M184.03 136.28h4.0" stroke="#000000" stroke-width="0.7" fill="none"/>
<path d="M191.35 135.27V140.61M189.35 135.27h4.0M189.35 140.61h4.0" stroke="#000000" stroke-width="0.7" fill="none"/>
<path d="M185.72 129.43V134.53M183.72 129.43h4.0M183.72 134.53h4.0" stroke="#000000" stroke-width="0.7" fill="none"/>
<path d="M189.90 134.20V138.81M187.90 134.20h4.0M187.90 138.81h4.0" stroke="#000000" stroke-width="0.7" fill="none"/>
<path d="M186.61 130.36V134.80M184.61 130.36h4.0M184.61 134.80h4.0" stroke="#000000" stroke-width="0.7" fill="none"/>
<path d="M185.22 125.41V130.17M183.22 125.41h4.0M183.22 130.17h4.0" stroke="#000000" stroke-width="0.7" fill="none"/>
<path d="M190.71 129.18V133.91M188.71 129.18h4.0M188.71 133.91h4.0" stroke="#000000" stroke-width="0.7" fill="none"/>
<path d="M191.18 127.39V132.00M189.18 127.39h4.0M189.18 132.00h4.0" stroke="#000000" stroke-width="0.7" fill="none"/>
<path d="M185.72 120.84V126.26M183.72 120.84h4.0M183.72 126.26h4.0" stroke="#000000" stroke-width="0.7" fill="none"/>
<path d="M194.02 132.15V137.19M192.02 132.15h4.0M192.02 137.19h4.0" stroke="#000000" stroke-width="0.7" fill="none"/>
<path d="M191.42 128.63V133.59M189.42 128.63h4.0M189.42 133.59h4.0" stroke="#000000" stroke-width="0.7" fill="none"/>
<path d="M191.42 126.24V132.14M189.42 126.24h4.0M189.42 132.14h4.0" stroke="#000000" stroke-width="0.7" fill="none"/>
<path d="M190.11 126.19V130.97M188.11 126.19h4.0M188.11 130.97h4.0" stroke="#000000" stroke-width="0.7" fill="none"/>
<path d="M184.67 132.41V136.83M182.67 132.41h4.0M182.67 136.83h4.0" stroke="#000000" stroke-width="0.7" fill="none"/>
<path d="M190.34 134.93V139.56M188.34 134.93h4.0M188.34 139.56h4.0" stroke="#000000" stroke-width="0.7" fill="none"/>
<path d="M186.29 129.25V134.46M184.29 129.25h4.0M184.29 134.46h4.0" stroke="#000000" stroke-width="0.7" fill="none"/>
<path d="M191.38 132.84V137.52M189.38 132.84h4.0M189.38 137.52h4.0" stroke="#000000" stroke-width="0.7" fill="none"/>
<path d="M187.56 124.63V129.10M185.56 124.63h4.0M185.56 129.10h4.0" stroke="#000000" stroke-width="0.7" fill="none"/>
<path d="M194.23 131.91V137.46M192.23 131.91h4.0M192.23 137.46h4.0" stroke="#000000" stroke-width="0.7" fill="none"/>
<path d="M186.60 121.32V126.09M184.60 121.32h4.0M184.60 126.09h4.0" stroke="#000000" stroke-width="0.7" fill="none"/>
<path d="M184.45 124.64V130.24M182.45 124.64h4.0M182.45 130.24h4.0" stroke="#000000" stroke-width="0.7" fill="none"/>
<path d="M191.99 132.93V138.46M189.99 132.93h4.0M189.99 138.46h4.0" stroke="#000000" stroke-width="0.7" fill="none"/>
<path d="M187.06 128.42V133.52M185.06 128.42h4.0M185.06 133.52h4.0" stroke="#000000" stroke-width="0.7" fill="none"/>
<path d="M193.07 128.06V132.89M191.07 128.06h4.0M191.07 132.89h4.0" stroke="#000000" stroke-width="0.7" fill="none"/>
<path d="M191.38 135.26V140.01M189.38 135.26h4.0M189.38 140.01h4.0" stroke="#000000" stroke-width="0.7" fill="none"/>
<path d="M186.99 123.03V128.62M184.99 123.03h4.0M184.99 128.62h4.0" stroke="#000000" stroke-width="0.7" fill="none"/>
<path d="M194.86 131.63V136.55M192.86 131.63h4.0M192.86 136.55h4.0" stroke="#000000" stroke-width="0.7" fill="none"/>
<path d="M186.75 134.00V139.41M184.75 134.00h4.0M184.75 139.41h4.0" stroke="#000000" stroke-width="0.7" fill="none"/>
<path d="M191.97 129.79V135.76M189.97 129.79h4.0M189.97 135.76h4.0" stroke="#000000" stroke-width="0.7" fill="none"/>
<path d="M94.40 75.60V81.60M92.40 75.60h4.0M92.40 81.60h4.0" stroke="#000000" stroke-width="0.7" fill="none"/>
<path d="M96.40 87.10V93.50M94.40 87.10h4.0M94.40 93.50h4.0" stroke="#000000" stroke-width="0.7" fill="none"/>
<path d="M95.00 78.00V83.00M93.00 78.00h4.0M93.00 83.00h4.0" stroke="#000000" stroke-width="0.7" fill="none"/>
<path d="M164.40 104.50V111.50M162.40 104.50h4.0M162.40 111.50h4.0" stroke="#000000" stroke-width="0.7" fill="none"/>
<path d="M219.00 135.80V141.80M217.00 135.80h4.0M217.00 141.80h4.0" stroke="#000000" stroke-width="0.7" fill="none"/>
<path d="M224.80 133.90V140.90M222.80 133.90h4.0M222.80 140.90h4.0" stroke="#000000" stroke-width="0.7" fill="none"/>
<path d="M225.60 145.40V149.80M223.60 145.40h4.0M223.60 149.80h4.0" stroke="#000000" stroke-width="0.7" fill="none"/>
<path d="M233.00 154.00V159.60M231.00 154.00h4.0M231.00 159.60h4.0" stroke="#000000" stroke-width="0.7" fill="none"/>
<path d="M236.80 153.00V158.60M234.80 153.00h4.0M234.80 158.60h4.0" stroke="#000000" stroke-width="0.7" fill="none"/>
<path d="M240.00 150.10V155.30M238.00 150.10h4.0M238.00 155.30h4.0" stroke="#000000" stroke-width="0.7" fill="none"/>
<path d="M240.90 157.80V163.80M238.90 157.80h4.0M238.90 163.80h4.0" stroke="#000000" stroke-width="0.7" fill="none"/>
<path d="M244.00 157.90V164.30M242.00 157.90h4.0M242.00 164.30h4.0" stroke="#000000" stroke-width="0.7" fill="none"/>
<path d="M247.50 163.70V169.70M245.50 163.70h4.0M245.50 169.70h4.0" stroke="#000000" stroke-width="0.7" fill="none"/>
<path d="M250.50 165.50V171.50M248.50 165.50h4.0M248.50 171.50h4.0" stroke="#000000" stroke-width="0.7" fill="none"/>
<path d="M252.60 159.50V165.50M250.60 159.50h4.0M250.60 165.50h4.0" stroke="#000000" stroke-width="0.7" fill="none"/>
<path d="M254.80 159.20V165.20M252.80 159.20h4.0M252.80 165.20h4.0" stroke="#000000" stroke-width="0.7" fill="none"/>
<path d="M256.90 169.90V175.50M254.90 169.90h4.0M254.90 175.50h4.0" stroke="#000000" stroke-width="0.7" fill="none"/>
<path d="M258.20 169.30V174.90M256.20 169.30h4.0M256.20 174.90h4.0" stroke="#000000" stroke-width="0.7" fill="none"/>
<path d="M263.90 171.40V177.00M261.90 171.40h4.0M261.90 177.00h4.0" stroke="#000000" stroke-width="0.7" fill="none"/>
<path d="M270.90 176.30V181.90M268.90 176.30h4.0M268.90 181.90h4.0" stroke="#000000" stroke-width="0.7" fill="none"/>
<path d="M275.60 178.20V183.80M273.60 178.20h4.0M273.60 183.80h4.0" stroke="#000000" stroke-width="0.7" fill="none"/>
<path d="M279.80 183.50V189.10M277.80 183.50h4.0M277.80 189.10h4.0" stroke="#000000" stroke-width="0.7" fill="none"/>
<path d="M285.50 186.30V192.30M283.50 186.30h4.0M283.50 192.30h4.0" stroke="#000000" stroke-width="0.7" fill="none"/>
<path d="M283.60 188.20V194.20M281.60 188.20h4.0M281.60 194.20h4.0" stroke="#000000" stroke-width="0.7" fill="none"/>
<path d="M277.60 188.20V194.20M275.60 188.20h4.0M275.60 194.20h4.0" stroke="#000000" stroke-width="0.7" fill="none"/>
<circle cx="92.22" cy="80.89" r="1.95" fill="#000000"/>
<circle cx="90.96" cy="83.10" r="1.95" fill="#000000"/>
<circle cx="90.89" cy="82.86" r="1.95" fill="#000000"/>
<circle cx="92.77" cy="80.55" r="1.95" fill="#000000"/>
<circle cx="92.72" cy="85.98" r="1.95" fill="#000000"/>
<circle cx="91.72" cy="84.09" r="1.95" fill="#000000"/>
<circle cx="93.49" cy="83.23" r="1.95" fill="#000000"/>
<circle cx="90.83" cy="85.36" r="1.95" fill="#000000"/>
<circle cx="91.32" cy="80.25" r="1.95" fill="#000000"/>
<circle cx="94.68" cy="82.21" r="1.95" fill="#000000"/>
<circle cx="93.79" cy="83.19" r="1.95" fill="#000000"/>
<circle cx="91.63" cy="84.44" r="1.95" fill="#000000"/>
<circle cx="92.17" cy="84.00" r="1.95" fill="#000000"/>
<circle cx="92.10" cy="85.47" r="1.95" fill="#000000"/>
<circle cx="91.82" cy="83.76" r="1.95" fill="#000000"/>
<circle cx="94.98" cy="86.30" r="1.95" fill="#000000"/>
<circle cx="98.30" cy="87.56" r="1.95" fill="#000000"/>
<circle cx="98.47" cy="83.04" r="1.95" fill="#000000"/>
<circle cx="99.13" cy="86.75" r="1.95" fill="#000000"/>
<circle cx="98.05" cy="87.05" r="1.95" fill="#000000"/>
<circle cx="98.69" cy="85.81" r="1.95" fill="#000000"/>
<circle cx="99.57" cy="86.31" r="1.95" fill="#000000"/>
<circle cx="97.45" cy="86.82" r="1.95" fill="#000000"/>
<circle cx="97.98" cy="85.04" r="1.95" fill="#000000"/>
<circle cx="97.35" cy="85.24" r="1.95" fill="#000000"/>
<circle cx="114.73" cy="89.46" r="1.95" fill="#000000"/>
<circle cx="114.80" cy="92.13" r="1.95" fill="#000000"/>
<circle cx="119.40" cy="91.86" r="1.95" fill="#000000"/>
<circle cx="117.41" cy="102.21" r="1.95" fill="#000000"/>
<circle cx="119.36" cy="94.61" r="1.95" fill="#000000"/>
<circle cx="116.22" cy="101.68" r="1.95" fill="#000000"/>
<circle cx="114.94" cy="91.19" r="1.95" fill="#000000"/>
<circle cx="115.45" cy="95.75" r="1.95" fill="#000000"/>
<circle cx="116.60" cy="94.64" r="1.95" fill="#000000"/>
<circle cx="119.91" cy="100.63" r="1.95" fill="#000000"/>
<circle cx="117.83" cy="99.49" r="1.95" fill="#000000"/>
<circle cx="119.58" cy="101.73" r="1.95" fill="#000000"/>
<circle cx="118.95" cy="96.02" r="1.95" fill="#000000"/>
<circle cx="114.64" cy="97.47" r="1.95" fill="#000000"/>
<circle cx="114.42" cy="91.42" r="1.95" fill="#000000"/>
<circle cx="116.11" cy="89.99" r="1.95" fill="#000000"/>
<circle cx="114.94" cy="90.15" r="1.95" fill="#000000"/>
<circle cx="117.81" cy="92.10" r="1.95" fill="#000000"/>
<circle cx="116.15" cy="94.37" r="1.95" fill="#000000"/>
<circle cx="116.89" cy="96.38" r="1.95" fill="#000000"/>
<circle cx="114.63" cy="93.39" r="1.95" fill="#000000"/>
<circle cx="119.14" cy="92.88" r="1.95" fill="#000000"/>
<circle cx="119.90" cy="98.35" r="1.95" fill="#000000"/>
<circle cx="117.37" cy="90.20" r="1.95" fill="#000000"/>
<circle cx="118.32" cy="93.90" r="1.95" fill="#000000"/>
<circle cx="115.04" cy="99.58" r="1.95" fill="#000000"/>
<circle cx="118.83" cy="95.09" r="1.95" fill="#000000"/>
<circle cx="119.29" cy="101.97" r="1.95" fill="#000000"/>
<circle cx="118.59" cy="93.54" r="1.95" fill="#000000"/>
<circle cx="116.20" cy="89.70" r="1.95" fill="#000000"/>
<circle cx="115.73" cy="92.71" r="1.95" fill="#000000"/>
<circle cx="119.93" cy="97.23" r="1.95" fill="#000000"/>
<circle cx="116.26" cy="92.41" r="1.95" fill="#000000"/>
<circle cx="115.22" cy="91.72" r="1.95" fill="#000000"/>
<circle cx="119.58" cy="102.58" r="1.95" fill="#000000"/>
<circle cx="118.05" cy="101.32" r="1.95" fill="#000000"/>
<circle cx="118.10" cy="102.88" r="1.95" fill="#000000"/>
<circle cx="118.65" cy="97.09" r="1.95" fill="#000000"/>
<circle cx="118.89" cy="95.16" r="1.95" fill="#000000"/>
<circle cx="120.02" cy="96.56" r="1.95" fill="#000000"/>
<circle cx="119.87" cy="101.09" r="1.95" fill="#000000"/>
<circle cx="114.79" cy="90.78" r="1.95" fill="#000000"/>
<circle cx="119.00" cy="92.60" r="1.95" fill="#000000"/>
<circle cx="120.08" cy="100.24" r="1.95" fill="#000000"/>
<circle cx="129.40" cy="95.77" r="1.95" fill="#000000"/>
<circle cx="131.55" cy="103.69" r="1.95" fill="#000000"/>
<circle cx="131.36" cy="100.71" r="1.95" fill="#000000"/>
<circle cx="130.81" cy="97.48" r="1.95" fill="#000000"/>
<circle cx="128.09" cy="96.65" r="1.95" fill="#000000"/>
<circle cx="127.92" cy="98.96" r="1.95" fill="#000000"/>
<circle cx="131.24" cy="99.58" r="1.95" fill="#000000"/>
<circle cx="129.58" cy="106.21" r="1.95" fill="#000000"/>
<circle cx="131.28" cy="101.58" r="1.95" fill="#000000"/>
<circle cx="129.27" cy="94.20" r="1.95" fill="#000000"/>
<circle cx="130.68" cy="96.90" r="1.95" fill="#000000"/>
<circle cx="130.30" cy="101.87" r="1.95" fill="#000000"/>
<circle cx="129.24" cy="101.39" r="1.95" fill="#000000"/>
<circle cx="127.14" cy="100.50" r="1.95" fill="#000000"/>
<circle cx="128.01" cy="103.74" r="1.95" fill="#000000"/>
<circle cx="129.46" cy="104.23" r="1.95" fill="#000000"/>
<circle cx="128.86" cy="101.98" r="1.95" fill="#000000"/>
<circle cx="129.21" cy="103.21" r="1.95" fill="#000000"/>
<circle cx="129.32" cy="100.38" r="1.95" fill="#000000"/>
<circle cx="130.17" cy="106.10" r="1.95" fill="#000000"/>
<circle cx="127.92" cy="100.85" r="1.95" fill="#000000"/>
<circle cx="130.88" cy="96.52" r="1.95" fill="#000000"/>
<circle cx="128.85" cy="94.74" r="1.95" fill="#000000"/>
<circle cx="126.97" cy="101.89" r="1.95" fill="#000000"/>
<circle cx="131.17" cy="96.88" r="1.95" fill="#000000"/>
<circle cx="129.97" cy="96.18" r="1.95" fill="#000000"/>
<circle cx="131.53" cy="97.92" r="1.95" fill="#000000"/>
<circle cx="128.63" cy="100.20" r="1.95" fill="#000000"/>
<circle cx="130.85" cy="96.83" r="1.95" fill="#000000"/>
<circle cx="129.23" cy="98.48" r="1.95" fill="#000000"/>
<circle cx="128.22" cy="103.16" r="1.95" fill="#000000"/>
<circle cx="129.43" cy="99.93" r="1.95" fill="#000000"/>
<circle cx="128.29" cy="101.87" r="1.95" fill="#000000"/>
<circle cx="130.62" cy="107.58" r="1.95" fill="#000000"/>
<circle cx="136.76" cy="97.43" r="1.95" fill="#000000"/>
<circle cx="136.77" cy="98.82" r="1.95" fill="#000000"/>
<circle cx="139.08" cy="110.48" r="1.95" fill="#000000"/>
<circle cx="136.34" cy="110.79" r="1.95" fill="#000000"/>
<circle cx="138.32" cy="98.90" r="1.95" fill="#000000"/>
<circle cx="138.28" cy="104.05" r="1.95" fill="#000000"/>
<circle cx="139.18" cy="107.68" r="1.95" fill="#000000"/>
<circle cx="136.10" cy="109.71" r="1.95" fill="#000000"/>
<circle cx="138.91" cy="104.78" r="1.95" fill="#000000"/>
<circle cx="137.79" cy="111.56" r="1.95" fill="#000000"/>
<circle cx="136.27" cy="104.71" r="1.95" fill="#000000"/>
<circle cx="136.19" cy="99.05" r="1.95" fill="#000000"/>
<circle cx="136.53" cy="101.52" r="1.95" fill="#000000"/>
<circle cx="138.53" cy="102.09" r="1.95" fill="#000000"/>
<circle cx="136.44" cy="102.02" r="1.95" fill="#000000"/>
<circle cx="136.70" cy="97.03" r="1.95" fill="#000000"/>
<circle cx="137.78" cy="100.20" r="1.95" fill="#000000"/>
<circle cx="139.16" cy="99.54" r="1.95" fill="#000000"/>
<circle cx="137.36" cy="104.71" r="1.95" fill="#000000"/>
<circle cx="137.22" cy="104.83" r="1.95" fill="#000000"/>
<circle cx="139.34" cy="103.26" r="1.95" fill="#000000"/>
<circle cx="138.34" cy="107.33" r="1.95" fill="#000000"/>
<circle cx="137.05" cy="97.79" r="1.95" fill="#000000"/>
<circle cx="136.05" cy="107.91" r="1.95" fill="#000000"/>
<circle cx="136.39" cy="97.96" r="1.95" fill="#000000"/>
<circle cx="138.93" cy="108.13" r="1.95" fill="#000000"/>
<circle cx="136.67" cy="101.30" r="1.95" fill="#000000"/>
<circle cx="136.37" cy="103.51" r="1.95" fill="#000000"/>
<circle cx="137.77" cy="101.04" r="1.95" fill="#000000"/>
<circle cx="136.91" cy="102.38" r="1.95" fill="#000000"/>
<circle cx="143.67" cy="107.40" r="1.95" fill="#000000"/>
<circle cx="143.02" cy="107.59" r="1.95" fill="#000000"/>
<circle cx="143.25" cy="101.05" r="1.95" fill="#000000"/>
<circle cx="143.40" cy="103.41" r="1.95" fill="#000000"/>
<circle cx="144.21" cy="112.06" r="1.95" fill="#000000"/>
<circle cx="144.88" cy="114.42" r="1.95" fill="#000000"/>
<circle cx="143.47" cy="115.47" r="1.95" fill="#000000"/>
<circle cx="144.91" cy="110.65" r="1.95" fill="#000000"/>
<circle cx="145.31" cy="114.81" r="1.95" fill="#000000"/>
<circle cx="144.94" cy="113.37" r="1.95" fill="#000000"/>
<circle cx="144.19" cy="108.11" r="1.95" fill="#000000"/>
<circle cx="145.20" cy="113.72" r="1.95" fill="#000000"/>
<circle cx="145.51" cy="111.56" r="1.95" fill="#000000"/>
<circle cx="143.13" cy="100.06" r="1.95" fill="#000000"/>
<circle cx="143.60" cy="101.45" r="1.95" fill="#000000"/>
<circle cx="144.31" cy="110.14" r="1.95" fill="#000000"/>
<circle cx="144.75" cy="108.12" r="1.95" fill="#000000"/>
<circle cx="145.17" cy="112.45" r="1.95" fill="#000000"/>
<circle cx="144.23" cy="110.61" r="1.95" fill="#000000"/>
<circle cx="144.95" cy="104.42" r="1.95" fill="#000000"/>
<circle cx="143.26" cy="111.29" r="1.95" fill="#000000"/>
<circle cx="144.96" cy="116.00" r="1.95" fill="#000000"/>
<circle cx="143.68" cy="107.47" r="1.95" fill="#000000"/>
<circle cx="145.06" cy="110.30" r="1.95" fill="#000000"/>
<circle cx="142.58" cy="101.67" r="1.95" fill="#000000"/>
<circle cx="144.98" cy="105.26" r="1.95" fill="#000000"/>
<circle cx="143.27" cy="110.38" r="1.95" fill="#000000"/>
<circle cx="144.73" cy="104.94" r="1.95" fill="#000000"/>
<circle cx="143.97" cy="107.40" r="1.95" fill="#000000"/>
<circle cx="145.52" cy="103.83" r="1.95" fill="#000000"/>
<circle cx="143.95" cy="113.05" r="1.95" fill="#000000"/>
<circle cx="143.92" cy="104.22" r="1.95" fill="#000000"/>
<circle cx="151.10" cy="108.73" r="1.95" fill="#000000"/>
<circle cx="148.12" cy="112.28" r="1.95" fill="#000000"/>
<circle cx="148.09" cy="116.88" r="1.95" fill="#000000"/>
<circle cx="150.88" cy="116.32" r="1.95" fill="#000000"/>
<circle cx="150.92" cy="112.95" r="1.95" fill="#000000"/>
<circle cx="147.61" cy="111.54" r="1.95" fill="#000000"/>
<circle cx="148.72" cy="106.57" r="1.95" fill="#000000"/>
<circle cx="148.77" cy="117.50" r="1.95" fill="#000000"/>
<circle cx="150.38" cy="118.21" r="1.95" fill="#000000"/>
<circle cx="151.03" cy="116.53" r="1.95" fill="#000000"/>
<circle cx="148.67" cy="110.16" r="1.95" fill="#000000"/>
<circle cx="151.30" cy="114.72" r="1.95" fill="#000000"/>
<circle cx="149.18" cy="108.87" r="1.95" fill="#000000"/>
<circle cx="147.98" cy="117.06" r="1.95" fill="#000000"/>
<circle cx="151.06" cy="109.31" r="1.95" fill="#000000"/>
<circle cx="149.49" cy="107.68" r="1.95" fill="#000000"/>
<circle cx="150.60" cy="115.06" r="1.95" fill="#000000"/>
<circle cx="151.08" cy="114.00" r="1.95" fill="#000000"/>
<circle cx="147.78" cy="115.37" r="1.95" fill="#000000"/>
<circle cx="150.38" cy="115.17" r="1.95" fill="#000000"/>
<circle cx="148.07" cy="111.45" r="1.95" fill="#000000"/>
<circle cx="148.70" cy="115.89" r="1.95" fill="#000000"/>
<circle cx="148.56" cy="114.53" r="1.95" fill="#000000"/>
<circle cx="149.66" cy="110.95" r="1.95" fill="#000000"/>
<circle cx="148.20" cy="107.38" r="1.95" fill="#000000"/>
<circle cx="149.44" cy="108.13" r="1.95" fill="#000000"/>
<circle cx="151.29" cy="112.55" r="1.95" fill="#000000"/>
<circle cx="148.31" cy="105.60" r="1.95" fill="#000000"/>
<circle cx="147.94" cy="107.75" r="1.95" fill="#000000"/>
<circle cx="149.71" cy="118.66" r="1.95" fill="#000000"/>
<circle cx="149.13" cy="111.01" r="1.95" fill="#000000"/>
<circle cx="148.99" cy="109.77" r="1.95" fill="#000000"/>
<circle cx="155.09" cy="120.39" r="1.95" fill="#000000"/>
<circle cx="156.62" cy="116.55" r="1.95" fill="#000000"/>
<circle cx="154.67" cy="110.86" r="1.95" fill="#000000"/>
<circle cx="155.92" cy="113.77" r="1.95" fill="#000000"/>
<circle cx="158.97" cy="120.86" r="1.95" fill="#000000"/>
<circle cx="153.42" cy="116.18" r="1.95" fill="#000000"/>
<circle cx="156.42" cy="115.89" r="1.95" fill="#000000"/>
<circle cx="155.86" cy="120.19" r="1.95" fill="#000000"/>
<circle cx="154.89" cy="108.79" r="1.95" fill="#000000"/>
<circle cx="156.75" cy="117.31" r="1.95" fill="#000000"/>
<circle cx="158.11" cy="117.45" r="1.95" fill="#000000"/>
<circle cx="156.31" cy="115.36" r="1.95" fill="#000000"/>
<circle cx="158.52" cy="112.08" r="1.95" fill="#000000"/>
<circle cx="157.59" cy="112.62" r="1.95" fill="#000000"/>
<circle cx="154.91" cy="115.87" r="1.95" fill="#000000"/>
<circle cx="153.96" cy="107.86" r="1.95" fill="#000000"/>
<circle cx="157.16" cy="113.55" r="1.95" fill="#000000"/>
<circle cx="157.29" cy="108.55" r="1.95" fill="#000000"/>
<circle cx="156.33" cy="120.83" r="1.95" fill="#000000"/>
<circle cx="159.21" cy="115.64" r="1.95" fill="#000000"/>
<circle cx="154.88" cy="120.20" r="1.95" fill="#000000"/>
<circle cx="155.29" cy="107.80" r="1.95" fill="#000000"/>
<circle cx="157.79" cy="114.26" r="1.95" fill="#000000"/>
<circle cx="157.74" cy="121.01" r="1.95" fill="#000000"/>
<circle cx="153.43" cy="111.20" r="1.95" fill="#000000"/>
<circle cx="157.84" cy="111.31" r="1.95" fill="#000000"/>
<circle cx="158.23" cy="115.60" r="1.95" fill="#000000"/>
<circle cx="159.80" cy="113.71" r="1.95" fill="#000000"/>
<circle cx="154.77" cy="110.24" r="1.95" fill="#000000"/>
<circle cx="155.21" cy="120.23" r="1.95" fill="#000000"/>
<circle cx="154.47" cy="110.14" r="1.95" fill="#000000"/>
<circle cx="157.72" cy="121.32" r="1.95" fill="#000000"/>
<circle cx="155.88" cy="110.63" r="1.95" fill="#000000"/>
<circle cx="154.16" cy="107.70" r="1.95" fill="#000000"/>
<circle cx="155.87" cy="119.81" r="1.95" fill="#000000"/>
<circle cx="159.53" cy="113.83" r="1.95" fill="#000000"/>
<circle cx="159.56" cy="119.43" r="1.95" fill="#000000"/>
<circle cx="157.72" cy="113.68" r="1.95" fill="#000000"/>
<circle cx="155.46" cy="109.85" r="1.95" fill="#000000"/>
<circle cx="155.10" cy="112.14" r="1.95" fill="#000000"/>
<circle cx="154.61" cy="111.98" r="1.95" fill="#000000"/>
<circle cx="158.79" cy="114.88" r="1.95" fill="#000000"/>
<circle cx="156.42" cy="113.01" r="1.95" fill="#000000"/>
<circle cx="154.51" cy="112.04" r="1.95" fill="#000000"/>
<circle cx="162.68" cy="117.14" r="1.95" fill="#000000"/>
<circle cx="164.75" cy="113.62" r="1.95" fill="#000000"/>
<circle cx="163.32" cy="121.46" r="1.95" fill="#000000"/>
<circle cx="163.55" cy="115.87" r="1.95" fill="#000000"/>
<circle cx="164.33" cy="116.09" r="1.95" fill="#000000"/>
<circle cx="163.49" cy="115.88" r="1.95" fill="#000000"/>
<circle cx="164.72" cy="124.12" r="1.95" fill="#000000"/>
<circle cx="163.25" cy="118.17" r="1.95" fill="#000000"/>
<circle cx="165.27" cy="118.01" r="1.95" fill="#000000"/>
<circle cx="163.80" cy="118.63" r="1.95" fill="#000000"/>
<circle cx="163.11" cy="122.03" r="1.95" fill="#000000"/>
<circle cx="164.90" cy="122.48" r="1.95" fill="#000000"/>
<circle cx="163.52" cy="116.42" r="1.95" fill="#000000"/>
<circle cx="164.79" cy="114.10" r="1.95" fill="#000000"/>
<circle cx="164.71" cy="116.09" r="1.95" fill="#000000"/>
<circle cx="162.69" cy="118.84" r="1.95" fill="#000000"/>
<circle cx="165.37" cy="116.59" r="1.95" fill="#000000"/>
<circle cx="162.87" cy="118.27" r="1.95" fill="#000000"/>
<circle cx="163.85" cy="115.54" r="1.95" fill="#000000"/>
<circle cx="164.34" cy="121.04" r="1.95" fill="#000000"/>
<circle cx="212.29" cy="145.29" r="1.95" fill="#000000"/>
<circle cx="212.28" cy="140.83" r="1.95" fill="#000000"/>
<circle cx="211.35" cy="145.74" r="1.95" fill="#000000"/>
<circle cx="211.09" cy="139.72" r="1.95" fill="#000000"/>
<circle cx="212.37" cy="144.29" r="1.95" fill="#000000"/>
<circle cx="211.39" cy="148.82" r="1.95" fill="#000000"/>
<circle cx="211.06" cy="146.46" r="1.95" fill="#000000"/>
<circle cx="211.55" cy="146.81" r="1.95" fill="#000000"/>
<circle cx="211.19" cy="138.24" r="1.95" fill="#000000"/>
<circle cx="212.55" cy="144.42" r="1.95" fill="#000000"/>
<circle cx="211.34" cy="147.28" r="1.95" fill="#000000"/>
<circle cx="211.12" cy="146.12" r="1.95" fill="#000000"/>
<circle cx="210.81" cy="143.80" r="1.95" fill="#000000"/>
<circle cx="211.04" cy="141.17" r="1.95" fill="#000000"/>
<circle cx="211.01" cy="139.79" r="1.95" fill="#000000"/>
<circle cx="211.90" cy="139.58" r="1.95" fill="#000000"/>
<circle cx="218.99" cy="150.46" r="1.95" fill="#000000"/>
<circle cx="218.96" cy="146.18" r="1.95" fill="#000000"/>
<circle cx="219.39" cy="145.11" r="1.95" fill="#000000"/>
<circle cx="219.11" cy="149.37" r="1.95" fill="#000000"/>
<circle cx="218.56" cy="145.64" r="1.95" fill="#000000"/>
<circle cx="219.14" cy="146.98" r="1.95" fill="#000000"/>
<circle cx="220.12" cy="147.68" r="1.95" fill="#000000"/>
<circle cx="219.04" cy="148.13" r="1.95" fill="#000000"/>
<circle cx="220.19" cy="148.18" r="1.95" fill="#000000"/>
<circle cx="219.71" cy="146.52" r="1.95" fill="#000000"/>
<circle cx="220.02" cy="148.64" r="1.95" fill="#000000"/>
<circle cx="188.67" cy="136.30" r="1.95" fill="#000000"/>
<circle cx="190.34" cy="132.38" r="1.95" fill="#000000"/>
<circle cx="185.02" cy="132.08" r="1.95" fill="#000000"/>
<circle cx="187.26" cy="130.44" r="1.95" fill="#000000"/>
<circle cx="185.25" cy="129.95" r="1.95" fill="#000000"/>
<circle cx="185.46" cy="137.28" r="1.95" fill="#000000"/>
<circle cx="188.65" cy="135.71" r="1.95" fill="#000000"/>
<circle cx="186.10" cy="125.53" r="1.95" fill="#000000"/>
<circle cx="189.96" cy="128.21" r="1.95" fill="#000000"/>
<circle cx="186.84" cy="133.74" r="1.95" fill="#000000"/>
<circle cx="184.47" cy="131.11" r="1.95" fill="#000000"/>
<circle cx="184.44" cy="135.58" r="1.95" fill="#000000"/>
<circle cx="190.89" cy="130.91" r="1.95" fill="#000000"/>
<circle cx="187.52" cy="128.81" r="1.95" fill="#000000"/>
<circle cx="188.90" cy="132.67" r="1.95" fill="#000000"/>
<circle cx="191.12" cy="129.93" r="1.95" fill="#000000"/>
<circle cx="192.78" cy="134.64" r="1.95" fill="#000000"/>
<circle cx="186.07" cy="129.67" r="1.95" fill="#000000"/>
<circle cx="185.48" cy="128.98" r="1.95" fill="#000000"/>
<circle cx="189.08" cy="130.26" r="1.95" fill="#000000"/>
<circle cx="192.44" cy="134.60" r="1.95" fill="#000000"/>
<circle cx="184.62" cy="130.16" r="1.95" fill="#000000"/>
<circle cx="192.42" cy="135.20" r="1.95" fill="#000000"/>
<circle cx="195.00" cy="136.84" r="1.95" fill="#000000"/>
<circle cx="193.07" cy="137.08" r="1.95" fill="#000000"/>
<circle cx="188.04" cy="134.25" r="1.95" fill="#000000"/>
<circle cx="189.78" cy="136.90" r="1.95" fill="#000000"/>
<circle cx="187.02" cy="130.20" r="1.95" fill="#000000"/>
<circle cx="184.42" cy="124.95" r="1.95" fill="#000000"/>
<circle cx="194.77" cy="133.01" r="1.95" fill="#000000"/>
<circle cx="185.94" cy="134.71" r="1.95" fill="#000000"/>
<circle cx="190.10" cy="132.31" r="1.95" fill="#000000"/>
<circle cx="190.67" cy="136.30" r="1.95" fill="#000000"/>
<circle cx="188.53" cy="134.92" r="1.95" fill="#000000"/>
<circle cx="188.14" cy="134.39" r="1.95" fill="#000000"/>
<circle cx="186.03" cy="134.05" r="1.95" fill="#000000"/>
<circle cx="191.35" cy="137.94" r="1.95" fill="#000000"/>
<circle cx="185.72" cy="131.98" r="1.95" fill="#000000"/>
<circle cx="189.90" cy="136.51" r="1.95" fill="#000000"/>
<circle cx="186.61" cy="132.58" r="1.95" fill="#000000"/>
<circle cx="185.22" cy="127.79" r="1.95" fill="#000000"/>
<circle cx="190.71" cy="131.54" r="1.95" fill="#000000"/>
<circle cx="191.18" cy="129.69" r="1.95" fill="#000000"/>
<circle cx="185.72" cy="123.55" r="1.95" fill="#000000"/>
<circle cx="194.02" cy="134.67" r="1.95" fill="#000000"/>
<circle cx="191.42" cy="131.11" r="1.95" fill="#000000"/>
<circle cx="191.42" cy="129.19" r="1.95" fill="#000000"/>
<circle cx="190.11" cy="128.58" r="1.95" fill="#000000"/>
<circle cx="184.67" cy="134.62" r="1.95" fill="#000000"/>
<circle cx="190.34" cy="137.24" r="1.95" fill="#000000"/>
<circle cx="186.29" cy="131.85" r="1.95" fill="#000000"/>
<circle cx="191.38" cy="135.18" r="1.95" fill="#000000"/>
<circle cx="187.56" cy="126.86" r="1.95" fill="#000000"/>
<circle cx="194.23" cy="134.68" r="1.95" fill="#000000"/>
<circle cx="186.60" cy="123.71" r="1.95" fill="#000000"/>
<circle cx="184.45" cy="127.44" r="1.95" fill="#000000"/>
<circle cx="191.99" cy="135.69" r="1.95" fill="#000000"/>
<circle cx="187.06" cy="130.97" r="1.95" fill="#000000"/>
<circle cx="193.07" cy="130.48" r="1.95" fill="#000000"/>
<circle cx="191.38" cy="137.64" r="1.95" fill="#000000"/>
<circle cx="186.99" cy="125.82" r="1.95" fill="#000000"/>
<circle cx="194.86" cy="134.09" r="1.95" fill="#000000"/>
<circle cx="186.75" cy="136.70" r="1.95" fill="#000000"/>
<circle cx="191.97" cy="132.78" r="1.95" fill="#000000"/>
<circle cx="94.40" cy="78.60" r="1.95" fill="#000000"/>
<circle cx="96.40" cy="90.30" r="1.95" fill="#000000"/>
<circle cx="95.00" cy="80.50" r="1.95" fill="#000000"/>
<circle cx="164.40" cy="108.00" r="1.95" fill="#000000"/>
<circle cx="219.00" cy="138.80" r="1.95" fill="#000000"/>
<circle cx="224.80" cy="137.40" r="1.95" fill="#000000"/>
<circle cx="225.60" cy="147.60" r="1.95" fill="#000000"/>
<circle cx="233.00" cy="156.80" r="1.95" fill="#000000"/>
<circle cx="236.80" cy="155.80" r="1.95" fill="#000000"/>
<circle cx="240.00" cy="152.70" r="1.95" fill="#000000"/>
<circle cx="240.90" cy="160.80" r="1.95" fill="#000000"/>
<circle cx="244.00" cy="161.10" r="1.95" fill="#000000"/>
<circle cx="247.50" cy="166.70" r="1.95" fill="#000000"/>
<circle cx="250.50" cy="168.50" r="1.95" fill="#000000"/>
<circle cx="252.60" cy="162.50" r="1.95" fill="#000000"/>
<circle cx="254.80" cy="162.20" r="1.95" fill="#000000"/>
<circle cx="256.90" cy="172.70" r="1.95" fill="#000000"/>
<circle cx="258.20" cy="172.10" r="1.95" fill="#000000"/>
<circle cx="263.90" cy="174.20" r="1.95" fill="#000000"/>
<circle cx="270.90" cy="179.10" r="1.95" fill="#000000"/>
<circle cx="275.60" cy="181.00" r="1.95" fill="#000000"/>
<circle cx="279.80" cy="186.30" r="1.95" fill="#000000"/>
<circle cx="285.50" cy="189.30" r="1.95" fill="#000000"/>
<circle cx="283.60" cy="191.20" r="1.95" fill="#000000"/>
<circle cx="277.60" cy="191.20" r="1.95" fill="#000000"/>
<path d="M172.90 94.40V103.30M170.60 94.40h4.6M170.60 103.30h4.6" stroke="#009e73" stroke-width="0.65" fill="none"/>
<path d="M49.70 42.83L52.00 46.39H47.40Z" fill="#009e73"/>
<path d="M62.40 50.03L64.70 53.59H60.10Z" fill="#009e73"/>
<path d="M71.30 54.03L73.60 57.59H69.00Z" fill="#009e73"/>
<path d="M81.70 58.43L84.00 61.99H79.40Z" fill="#009e73"/>
<path d="M97.50 64.93L99.80 68.50H95.20Z" fill="#009e73"/>
<path d="M104.30 67.23L106.60 70.80H102.00Z" fill="#009e73"/>
<path d="M107.10 68.33L109.40 71.90H104.80Z" fill="#009e73"/>
<path d="M110.10 69.63L112.40 73.20H107.80Z" fill="#009e73"/>
<path d="M113.90 71.03L116.20 74.59H111.60Z" fill="#009e73"/>
<path d="M119.00 70.23L121.30 73.80H116.70Z" fill="#009e73"/>
<path d="M123.70 72.53L126.00 76.09H121.40Z" fill="#009e73"/>
<path d="M126.70 73.23L129.00 76.80H124.40Z" fill="#009e73"/>
<path d="M129.20 73.73L131.50 77.30H126.90Z" fill="#009e73"/>
<path d="M132.50 74.93L134.80 78.50H130.20Z" fill="#009e73"/>
<path d="M167.30 88.93L169.60 92.50H165.00Z" fill="#009e73"/>
<path d="M172.90 96.63L175.20 100.20H170.60Z" fill="#009e73"/>
<path d="M192.00 99.13L194.30 102.70H189.70Z" fill="#009e73"/>
<path d="M196.60 102.43L198.90 106.00H194.30Z" fill="#009e73"/>
<path d="M204.70 106.23L207.00 109.80H202.40Z" fill="#009e73"/>
<path d="M208.50 106.83L210.80 110.40H206.20Z" fill="#009e73"/>
<path d="M213.10 110.13L215.40 113.70H210.80Z" fill="#009e73"/>
<path d="M216.70 110.63L219.00 114.20H214.40Z" fill="#009e73"/>
<path d="M223.30 111.83L225.60 115.40H221.00Z" fill="#009e73"/>
<path d="M228.10 115.23L230.40 118.80H225.80Z" fill="#009e73"/>
<path d="M232.70 117.23L235.00 120.80H230.40Z" fill="#009e73"/>
<path d="M235.20 119.03L237.50 122.59H232.90Z" fill="#009e73"/>
<path d="M280.90 149.73L283.20 153.30H278.60Z" fill="#009e73"/>
<circle cx="43.00" cy="25.20" r="2.3" fill="#9400d3"/>
<circle cx="53.30" cy="30.80" r="2.3" fill="#9400d3"/>
<circle cx="64.90" cy="36.80" r="2.3" fill="#9400d3"/>
<circle cx="73.30" cy="40.50" r="2.3" fill="#9400d3"/>
<circle cx="85.40" cy="45.90" r="2.3" fill="#9400d3"/>
<circle cx="99.60" cy="51.60" r="2.3" fill="#9400d3"/>
<circle cx="105.70" cy="54.40" r="2.3" fill="#9400d3"/>
<circle cx="110.90" cy="53.70" r="2.3" fill="#9400d3"/>
<circle cx="115.40" cy="55.40" r="2.3" fill="#9400d3"/>
<circle cx="121.50" cy="57.10" r="2.3" fill="#9400d3"/>
<circle cx="124.80" cy="59.10" r="2.3" fill="#9400d3"/>
<circle cx="127.90" cy="59.70" r="2.3" fill="#9400d3"/>
<circle cx="130.80" cy="59.60" r="2.3" fill="#9400d3"/>
<circle cx="172.50" cy="66.60" r="2.3" fill="#9400d3"/>
<circle cx="192.00" cy="83.20" r="2.3" fill="#9400d3"/>
<circle cx="196.60" cy="85.70" r="2.3" fill="#9400d3"/>
<circle cx="204.70" cy="90.50" r="2.3" fill="#9400d3"/>
<circle cx="208.50" cy="91.80" r="2.3" fill="#9400d3"/>
<circle cx="213.60" cy="95.10" r="2.3" fill="#9400d3"/>
<circle cx="216.90" cy="93.10" r="2.3" fill="#9400d3"/>
<circle cx="223.80" cy="98.20" r="2.3" fill="#9400d3"/>
<circle cx="228.10" cy="100.20" r="2.3" fill="#9400d3"/>
<circle cx="232.70" cy="100.70" r="2.3" fill="#9400d3"/>
<circle cx="280.90" cy="136.10" r="2.3" fill="#9400d3"/>
<path d="M113.00 34.30V44.40M110.70 34.30h4.6M110.70 44.40h4.6" stroke="#e51e10" stroke-width="0.65" fill="none"/>
<path d="M217.00 38.20V52.00M214.70 38.20h4.6M214.70 52.00h4.6" stroke="#e51e10" stroke-width="0.65" fill="none"/>
<path d="M236.90 30.20V37.30M234.60 30.20h4.6M234.60 37.30h4.6" stroke="#e51e10" stroke-width="0.65" fill="none"/>
<path d="M248.30 36.50V48.00M246.00 36.50h4.6M246.00 48.00h4.6" stroke="#e51e10" stroke-width="0.65" fill="none"/>
<path d="M254.70 35.30V43.40M252.40 35.30h4.6M252.40 43.40h4.6" stroke="#e51e10" stroke-width="0.65" fill="none"/>
<path d="M270.70 38.30V49.30M268.40 38.30h4.6M268.40 49.30h4.6" stroke="#e51e10" stroke-width="0.65" fill="none"/>
<rect x="110.70" y="36.10" width="4.6" height="4.6" fill="#e51e10"/>
<rect x="171.50" y="13.90" width="4.6" height="4.6" fill="#e51e10"/>
<rect x="195.90" y="19.50" width="4.6" height="4.6" fill="#e51e10"/>
<rect x="214.70" y="41.40" width="4.6" height="4.6" fill="#e51e10"/>
<rect x="234.60" y="30.70" width="4.6" height="4.6" fill="#e51e10"/>
<rect x="246.00" y="38.90" width="4.6" height="4.6" fill="#e51e10"/>
<rect x="252.40" y="36.60" width="4.6" height="4.6" fill="#e51e10"/>
<rect x="268.40" y="40.90" width="4.6" height="4.6" fill="#e51e10"/>
<path d="M222.90 40.80L225.40 36.42H220.40Z" fill="#e51e10"/>
<path d="M228.50 40.30L231.00 35.92H226.00Z" fill="#e51e10"/>
<path d="M295.90 47.20L298.40 42.83H293.40Z" fill="#e51e10"/>
<path d="M52.7 206.4H80.2M52.7 204.20000000000002v4.4M80.2 204.20000000000002v4.4" stroke="#e51e10" stroke-width="0.6" fill="none"/>
<rect x="64.20" y="204.10" width="4.6" height="4.6" fill="#e51e10"/>
<text transform="translate(86.2,209.70) rotate(0.05) scale(0.97,1)" font-size="9.7">8.5 GHz</text>
<path d="M52.7 215.8H80.2M52.7 213.60000000000002v4.4M80.2 213.60000000000002v4.4" stroke="#9400d3" stroke-width="0.6" fill="none"/>
<circle cx="66.50" cy="215.80" r="2.3" fill="#9400d3"/>
<text transform="translate(86.2,219.10) rotate(0.05) scale(0.97,1)" font-size="9.7">i / 10</text>
<path d="M52.7 225.2H80.2M52.7 223.0v4.4M80.2 223.0v4.4" stroke="#009e73" stroke-width="0.6" fill="none"/>
<path d="M66.50 223.13L68.80 226.69H64.20Z" fill="#009e73"/>
<text transform="translate(86.2,228.50) rotate(0.05) scale(0.97,1)" font-size="9.7">R / 30</text>
<path d="M52.7 234.7H80.2M52.7 232.5v4.4M80.2 232.5v4.4" stroke="#000000" stroke-width="0.6" fill="none"/>
<circle cx="66.50" cy="234.70" r="2.3" fill="#000000"/>
<text transform="translate(86.2,238.00) rotate(0.05) scale(0.97,1)" font-size="9.7">5 keV</text>
<rect x="41.3" y="10.7" width="336.0" height="233.8" fill="none" stroke="#000" stroke-width="1.3"/>
<text x="48.9" y="24.8" font-size="12.1">GRB 050820A</text>
<text transform="translate(35.40,14.40) rotate(0.05) scale(0.915,1)" font-size="10" text-anchor="end">10<tspan font-size="8" dy="-4.6">+0</tspan></text>
<text transform="translate(35.40,43.62) rotate(0.05) scale(0.915,1)" font-size="10" text-anchor="end">10<tspan font-size="8" dy="-4.6">-1</tspan></text>
<text transform="translate(35.40,72.85) rotate(0.05) scale(0.915,1)" font-size="10" text-anchor="end">10<tspan font-size="8" dy="-4.6">-2</tspan></text>
<text transform="translate(35.40,102.08) rotate(0.05) scale(0.915,1)" font-size="10" text-anchor="end">10<tspan font-size="8" dy="-4.6">-3</tspan></text>
<text transform="translate(35.40,131.30) rotate(0.05) scale(0.915,1)" font-size="10" text-anchor="end">10<tspan font-size="8" dy="-4.6">-4</tspan></text>
<text transform="translate(35.40,160.52) rotate(0.05) scale(0.915,1)" font-size="10" text-anchor="end">10<tspan font-size="8" dy="-4.6">-5</tspan></text>
<text transform="translate(35.40,189.75) rotate(0.05) scale(0.915,1)" font-size="10" text-anchor="end">10<tspan font-size="8" dy="-4.6">-6</tspan></text>
<text transform="translate(35.40,218.97) rotate(0.05) scale(0.915,1)" font-size="10" text-anchor="end">10<tspan font-size="8" dy="-4.6">-7</tspan></text>
<text transform="translate(35.40,248.20) rotate(0.05) scale(0.915,1)" font-size="10" text-anchor="end">10<tspan font-size="8" dy="-4.6">-8</tspan></text>
<text transform="translate(41.60,257.90) rotate(0.05) scale(0.915,1)" font-size="10" text-anchor="middle">10<tspan font-size="8" dy="-4.6">-2</tspan></text>
<text transform="translate(108.80,257.90) rotate(0.05) scale(0.915,1)" font-size="10" text-anchor="middle">10<tspan font-size="8" dy="-4.6">-1</tspan></text>
<text transform="translate(176.00,257.90) rotate(0.05) scale(0.915,1)" font-size="10" text-anchor="middle">10<tspan font-size="8" dy="-4.6">0</tspan></text>
<text transform="translate(243.20,257.90) rotate(0.05) scale(0.915,1)" font-size="10" text-anchor="middle">10<tspan font-size="8" dy="-4.6">1</tspan></text>
<text transform="translate(310.40,257.90) rotate(0.05) scale(0.915,1)" font-size="10" text-anchor="middle">10<tspan font-size="8" dy="-4.6">2</tspan></text>
<text transform="translate(377.60,257.90) rotate(0.05) scale(0.915,1)" font-size="10" text-anchor="middle">10<tspan font-size="8" dy="-4.6">3</tspan></text>
<text transform="translate(209.5,271.7) rotate(0.05) scale(0.95,1)" font-size="10" text-anchor="middle">t (d)</text>
<text transform="translate(10.6,128.0) rotate(-90) scale(0.97,1)" font-size="10" text-anchor="middle">f<tspan font-size="8.5" dy="2.4">ν</tspan><tspan dy="-2.4"> (mJy)</tspan></text>
<text x="311" y="51.5" font-size="8.3" fill="#e51e10">α = -0.66</text>
<text x="289.5" y="138.2" font-size="8.3" fill="#9400d3">α<tspan font-size="7" dy="2.1">1</tspan><tspan dy="-2.1"> = -0.86, α</tspan><tspan font-size="7" dy="2.1">2</tspan><tspan dy="-2.1"> = -1.69</tspan></text>
<text x="289.5" y="153.9" font-size="8.3" fill="#009e73">α<tspan font-size="7" dy="2.1">1</tspan><tspan dy="-2.1"> = -0.87, α</tspan><tspan font-size="7" dy="2.1">2</tspan><tspan dy="-2.1"> = -1.66</tspan></text>
<text x="108.3" y="153.6" font-size="8.3" fill="#000000">α<tspan font-size="7" dy="2.1">1</tspan><tspan dy="-2.1"> = -1.14, α</tspan><tspan font-size="7" dy="2.1">2</tspan><tspan dy="-2.1"> = -1.68</tspan></text>
</svg></body></html>
